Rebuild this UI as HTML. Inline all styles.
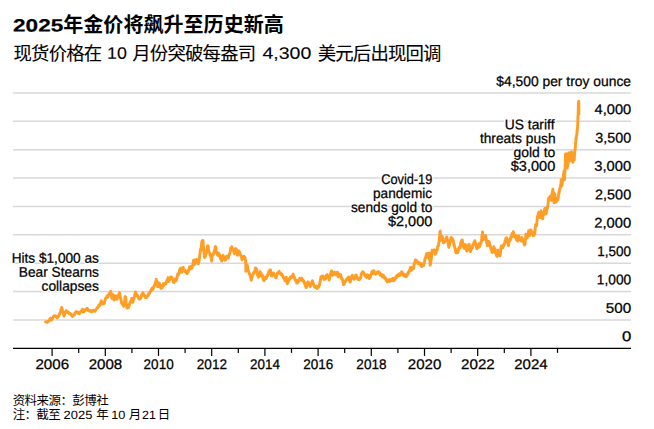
<!DOCTYPE html>
<html lang="zh"><head><meta charset="utf-8"><title>2025年金价将飙升至历史新高</title>
<style>
html,body{margin:0;padding:0;background:#fff;}
body{width:654px;height:429px;position:relative;overflow:hidden;font-family:"Liberation Sans",sans-serif;color:#000;font-kerning:none;}
svg{position:absolute;left:0;top:0;}
.t{position:absolute;white-space:pre;transform-origin:0 0;-webkit-text-stroke:0.25px #000;}
.n{-webkit-text-stroke:0;}
.l{-webkit-text-stroke:.1px #000;}
.tb{-webkit-text-stroke:.2px #000;}
.h{text-shadow:1.30px 0.00px 0 #fff,1.13px 0.65px 0 #fff,0.65px 1.13px 0 #fff,0.00px 1.30px 0 #fff,-0.65px 1.13px 0 #fff,-1.13px 0.65px 0 #fff,-1.30px 0.00px 0 #fff,-1.13px -0.65px 0 #fff,-0.65px -1.13px 0 #fff,-0.00px -1.30px 0 #fff,0.65px -1.13px 0 #fff,1.13px -0.65px 0 #fff;}
.sr{position:absolute;left:0;top:0;width:1px;height:1px;overflow:hidden;opacity:0;font-size:1px;}
</style></head><body>
<svg width="654" height="429" viewBox="0 0 654 429" role="img" aria-label="2025年金价将飙升至历史新高">
<g stroke="#d8d8d8" stroke-width="1.45"><line x1="13" x2="631" y1="319.92" y2="319.92"/><line x1="13" x2="631" y1="291.54" y2="291.54"/><line x1="13" x2="631" y1="263.17" y2="263.17"/><line x1="13" x2="631" y1="234.79" y2="234.79"/><line x1="13" x2="631" y1="206.41" y2="206.41"/><line x1="13" x2="631" y1="178.03" y2="178.03"/><line x1="13" x2="631" y1="149.66" y2="149.66"/><line x1="13" x2="631" y1="121.28" y2="121.28"/><line x1="13" x2="631" y1="92.90" y2="92.90"/></g>
<g stroke="#000" stroke-width="1.2"><line x1="13" x2="631" y1="348.40000000000003" y2="348.40000000000003"/><line x1="52.10" x2="52.10" y1="348.30" y2="355.90"/><line x1="78.70" x2="78.70" y1="348.30" y2="352.90"/><line x1="105.30" x2="105.30" y1="348.30" y2="355.90"/><line x1="131.90" x2="131.90" y1="348.30" y2="352.90"/><line x1="158.50" x2="158.50" y1="348.30" y2="355.90"/><line x1="185.10" x2="185.10" y1="348.30" y2="352.90"/><line x1="211.70" x2="211.70" y1="348.30" y2="355.90"/><line x1="238.30" x2="238.30" y1="348.30" y2="352.90"/><line x1="264.90" x2="264.90" y1="348.30" y2="355.90"/><line x1="291.50" x2="291.50" y1="348.30" y2="352.90"/><line x1="318.10" x2="318.10" y1="348.30" y2="355.90"/><line x1="344.70" x2="344.70" y1="348.30" y2="352.90"/><line x1="371.30" x2="371.30" y1="348.30" y2="355.90"/><line x1="397.90" x2="397.90" y1="348.30" y2="352.90"/><line x1="424.50" x2="424.50" y1="348.30" y2="355.90"/><line x1="451.10" x2="451.10" y1="348.30" y2="352.90"/><line x1="477.70" x2="477.70" y1="348.30" y2="355.90"/><line x1="504.30" x2="504.30" y1="348.30" y2="352.90"/><line x1="530.90" x2="530.90" y1="348.30" y2="355.90"/><line x1="557.50" x2="557.50" y1="348.30" y2="352.90"/></g>
<polyline fill="none" stroke="#FF9E26" stroke-width="2.9" stroke-linejoin="round" stroke-linecap="round" points="45.5,321.9 45.6,321.9 45.7,321.9 45.8,321.9 45.8,322.0 46.1,322.0 46.1,322.0 46.2,321.9 46.3,321.8 46.3,321.8 46.6,321.9 46.6,321.9 46.7,321.8 46.8,322.1 46.9,322.3 47.1,322.3 47.1,322.2 47.2,322.1 47.3,322.2 47.4,322.1 47.6,321.8 47.7,321.7 47.7,321.5 47.8,321.5 47.9,321.6 48.1,321.5 48.2,321.4 48.2,321.4 48.3,321.5 48.4,321.5 48.6,321.3 48.7,321.2 48.7,321.3 48.8,321.1 48.9,320.8 49.1,320.7 49.2,320.7 49.3,320.5 49.3,320.4 49.4,320.4 49.6,319.7 49.7,319.3 49.8,319.1 49.8,319.0 49.9,319.0 50.1,318.6 50.2,318.6 50.3,318.6 50.4,318.5 50.4,318.2 50.6,318.2 50.7,318.2 50.8,318.4 50.9,318.8 50.9,319.4 51.2,320.2 51.2,320.3 51.3,320.3 51.4,320.2 51.4,320.1 51.7,319.4 51.7,319.3 51.8,319.1 51.9,319.2 52.0,318.9 52.2,318.7 52.2,318.7 52.3,318.5 52.4,318.6 52.5,318.6 52.7,318.1 52.8,317.9 52.8,317.8 52.9,317.7 53.0,317.5 53.1,317.1 53.2,317.1 53.3,317.1 53.3,316.9 53.4,316.8 53.5,316.8 53.7,316.3 53.8,316.5 53.8,316.4 53.9,316.4 54.0,316.3 54.2,315.8 54.3,316.0 54.4,316.0 54.4,315.8 54.5,315.7 54.7,315.8 54.8,315.9 54.9,315.9 54.9,316.0 55.0,316.0 55.2,316.1 55.3,316.1 55.4,315.9 55.5,315.9 55.5,316.1 55.7,316.2 55.8,316.4 55.9,316.4 56.0,316.2 56.0,316.7 56.3,317.0 56.3,317.1 56.4,317.2 56.5,317.2 56.5,317.3 56.8,317.2 56.8,317.3 56.9,317.4 57.0,317.6 57.1,317.7 57.3,317.7 57.3,317.8 57.4,317.7 57.5,317.5 57.6,317.3 57.8,317.1 57.9,317.0 57.9,316.8 58.0,316.6 58.1,316.9 58.3,316.6 58.4,316.7 58.4,316.6 58.5,316.3 58.6,316.2 58.8,315.8 58.9,315.7 59.0,315.4 59.0,315.1 59.1,315.1 59.3,314.4 59.4,314.3 59.5,314.2 59.5,314.0 59.6,313.8 59.7,313.6 59.8,313.7 59.9,313.4 60.0,313.4 60.0,313.3 60.1,313.4 60.3,312.1 60.4,312.1 60.5,311.8 60.6,311.8 60.6,311.5 60.8,310.4 60.9,310.0 61.0,309.8 61.1,309.9 61.1,309.4 61.4,308.8 61.4,308.5 61.5,307.9 61.6,307.9 61.6,307.4 61.9,307.8 61.9,308.3 62.0,308.4 62.1,308.6 62.2,308.9 62.4,310.0 62.4,310.3 62.5,311.0 62.6,311.1 62.7,311.3 62.9,312.1 63.0,312.4 63.0,312.4 63.1,312.7 63.2,312.8 63.4,313.1 63.5,313.3 63.5,313.8 63.6,314.3 63.7,314.8 63.9,315.6 64.0,315.9 64.1,316.1 64.1,316.0 64.2,315.8 64.4,314.8 64.5,314.4 64.6,314.2 64.6,314.2 64.7,314.1 64.9,313.6 65.0,313.2 65.1,312.8 65.1,312.6 65.2,312.2 65.4,312.0 65.5,311.9 65.6,311.5 65.7,311.4 65.7,311.3 65.9,311.0 66.0,311.0 66.1,310.7 66.2,310.9 66.2,310.6 66.5,311.1 66.5,311.3 66.6,311.7 66.7,312.0 66.7,312.0 67.0,312.1 67.0,312.0 67.1,312.0 67.2,311.9 67.3,311.9 67.5,312.2 67.5,312.1 67.6,312.2 67.7,312.4 67.8,312.1 68.0,312.1 68.1,312.4 68.1,312.3 68.2,312.1 68.3,312.2 68.5,312.3 68.6,312.4 68.6,312.5 68.7,312.4 68.8,312.5 69.0,313.0 69.1,313.0 69.2,313.0 69.2,313.3 69.3,313.5 69.5,313.0 69.6,313.5 69.7,313.5 69.7,313.5 69.8,313.3 70.0,313.4 70.1,313.8 70.2,313.7 70.2,313.8 70.3,314.0 70.5,313.9 70.6,314.1 70.7,314.2 70.8,314.2 70.8,314.4 71.0,314.4 71.1,314.7 71.2,315.0 71.3,314.9 71.3,314.8 71.6,314.9 71.6,315.0 71.7,315.4 71.8,315.7 71.8,315.8 72.1,316.2 72.1,316.2 72.2,316.3 72.3,316.3 72.4,316.4 72.6,316.0 72.7,316.1 72.7,316.1 72.8,316.0 72.9,315.9 73.1,315.5 73.2,315.5 73.2,315.6 73.3,315.4 73.4,315.1 73.6,314.7 73.7,314.8 73.7,315.0 73.8,314.9 73.9,314.9 74.1,315.1 74.2,315.1 74.3,314.8 74.3,314.7 74.4,314.9 74.6,314.5 74.7,314.4 74.8,314.0 74.8,313.8 74.9,313.7 75.1,312.9 75.2,312.6 75.3,312.7 75.3,312.7 75.4,312.7 75.6,312.6 75.7,312.5 75.8,312.5 75.9,312.2 75.9,312.0 76.1,311.7 76.2,311.8 76.3,311.7 76.4,311.6 76.4,311.6 76.7,312.0 76.7,311.9 76.8,311.8 76.9,311.9 77.0,311.9 77.2,312.0 77.2,312.1 77.3,312.1 77.4,312.4 77.5,312.5 77.7,312.8 77.8,313.1 77.8,313.2 77.9,313.1 78.0,313.0 78.2,313.2 78.3,312.9 78.3,312.7 78.4,312.5 78.5,312.7 78.7,312.8 78.8,312.6 78.8,312.9 78.9,312.9 79.0,312.8 79.2,313.5 79.3,313.6 79.4,313.8 79.4,313.7 79.5,313.5 79.7,312.6 79.8,312.2 79.9,312.3 79.9,312.3 80.0,312.3 80.2,312.1 80.3,311.9 80.4,312.0 80.4,312.1 80.5,311.9 80.7,311.6 80.8,311.6 80.9,311.3 81.0,311.1 81.0,311.0 81.3,311.2 81.3,311.2 81.4,311.0 81.5,311.2 81.5,311.0 81.8,310.8 81.8,310.7 81.9,310.5 82.0,310.2 82.1,310.1 82.3,309.8 82.3,309.5 82.4,309.3 82.5,309.3 82.6,309.4 82.8,309.4 82.9,309.8 82.9,310.4 83.0,310.8 83.1,311.1 83.3,312.1 83.4,311.9 83.4,311.9 83.5,311.7 83.6,312.1 83.8,312.1 83.9,311.7 83.9,311.6 84.0,311.4 84.1,311.2 84.3,311.0 84.4,310.9 84.5,311.0 84.5,310.8 84.6,311.0 84.8,310.6 84.9,310.6 85.0,310.3 85.0,310.3 85.1,310.5 85.3,310.2 85.4,310.3 85.5,310.0 85.6,309.6 85.6,309.6 85.8,309.4 85.9,309.5 86.0,309.3 86.1,309.4 86.1,309.5 86.4,309.1 86.4,309.3 86.5,309.1 86.6,309.1 86.6,309.0 86.9,308.8 86.9,308.4 87.0,308.5 87.1,308.4 87.2,308.6 87.4,308.7 87.4,308.5 87.5,308.8 87.6,309.2 87.7,309.5 87.9,309.6 88.0,309.7 88.0,309.8 88.1,310.0 88.2,310.1 88.4,310.5 88.5,310.4 88.5,310.5 88.6,310.7 88.7,310.7 88.9,310.5 89.0,310.5 89.0,310.6 89.1,310.8 89.2,311.0 89.4,311.0 89.5,310.9 89.6,310.6 89.6,310.7 89.7,310.7 89.9,310.7 90.0,310.7 90.1,310.7 90.1,310.7 90.2,310.8 90.4,310.6 90.5,311.0 90.6,311.2 90.7,311.2 90.7,311.4 90.9,311.7 91.0,311.6 91.1,311.5 91.2,311.5 91.2,311.4 91.5,311.8 91.5,311.7 91.6,311.9 91.7,311.8 91.7,311.7 92.0,311.2 92.0,311.3 92.1,311.2 92.2,311.2 92.3,310.9 92.5,310.6 92.5,310.6 92.6,310.5 92.7,310.8 92.8,310.5 92.9,310.6 93.0,310.4 93.1,310.5 93.1,310.4 93.2,310.3 93.3,310.6 93.5,310.5 93.6,310.7 93.6,311.0 93.7,311.2 93.8,311.2 94.0,310.8 94.1,310.4 94.1,310.5 94.2,310.6 94.3,310.6 94.5,310.9 94.6,310.9 94.7,310.8 94.7,311.1 94.8,311.1 95.0,311.2 95.1,311.2 95.2,311.3 95.2,311.1 95.3,310.7 95.5,310.4 95.6,310.3 95.7,310.0 95.8,309.6 95.8,309.5 96.0,309.4 96.1,309.3 96.2,309.3 96.3,309.1 96.3,309.1 96.6,309.1 96.6,309.0 96.7,308.7 96.8,308.7 96.8,308.6 97.1,308.6 97.1,308.4 97.2,308.1 97.3,308.0 97.4,307.8 97.4,307.8 97.6,307.4 97.6,307.5 97.7,307.0 97.8,307.0 97.9,307.0 98.1,306.9 98.2,307.3 98.2,307.1 98.3,306.9 98.4,306.7 98.6,306.0 98.7,305.8 98.7,305.6 98.8,305.3 98.9,305.5 99.1,306.0 99.2,306.0 99.3,305.8 99.3,305.3 99.4,305.2 99.6,305.4 99.7,305.4 99.8,305.1 99.8,305.0 99.9,304.8 100.1,304.1 100.2,304.0 100.3,303.7 100.3,303.5 100.4,303.6 100.6,302.9 100.7,302.5 100.8,302.3 100.9,302.5 100.9,302.0 101.1,301.1 101.2,301.0 101.3,301.2 101.4,300.8 101.4,301.1 101.7,301.8 101.7,301.9 101.8,302.3 101.9,302.5 101.9,303.2 102.2,303.6 102.2,304.0 102.3,304.0 102.4,303.7 102.5,303.8 102.7,303.3 102.7,303.0 102.8,303.2 102.9,303.1 103.0,303.1 103.2,302.4 103.3,302.5 103.3,302.7 103.4,302.6 103.5,302.8 103.7,302.7 103.8,302.5 103.8,302.9 103.9,302.7 104.0,303.1 104.2,303.5 104.3,303.1 104.4,302.9 104.4,302.9 104.5,302.6 104.7,301.6 104.8,301.2 104.9,300.9 104.9,301.1 105.0,300.3 105.2,299.7 105.3,299.5 105.4,299.1 105.4,298.7 105.5,298.6 105.7,298.0 105.8,298.1 105.9,298.2 106.0,298.0 106.0,298.3 106.2,297.8 106.3,297.8 106.4,297.9 106.5,297.8 106.5,297.7 106.8,297.3 106.8,296.8 106.9,296.3 107.0,296.3 107.0,296.3 107.3,296.2 107.3,296.1 107.4,295.8 107.5,296.2 107.6,296.2 107.8,296.8 107.8,296.5 107.9,297.1 108.0,296.9 108.1,296.9 108.3,296.1 108.4,296.0 108.4,295.7 108.5,295.7 108.6,295.4 108.8,294.9 108.9,294.7 108.9,294.6 109.0,294.8 109.1,294.9 109.3,294.2 109.4,293.9 109.4,293.8 109.5,293.4 109.6,293.4 109.8,292.9 109.9,292.9 110.0,293.0 110.0,292.9 110.1,292.6 110.3,292.4 110.4,292.3 110.5,292.4 110.5,292.1 110.6,292.1 110.8,291.3 110.9,292.0 111.0,292.4 111.0,293.2 111.1,293.2 111.3,294.8 111.4,295.1 111.5,295.0 111.6,296.2 111.6,296.8 111.8,298.4 111.9,298.4 112.0,298.1 112.1,298.2 112.1,297.7 112.3,297.2 112.4,296.9 112.5,296.3 112.6,296.0 112.6,296.0 112.9,295.1 112.9,295.1 113.0,294.6 113.1,294.8 113.1,295.1 113.4,296.6 113.4,296.8 113.5,297.0 113.6,298.0 113.7,298.3 113.9,298.9 113.9,299.4 114.0,299.7 114.1,299.9 114.2,299.8 114.4,298.9 114.5,298.8 114.5,298.6 114.6,298.5 114.7,298.7 114.9,297.8 115.0,297.5 115.0,297.0 115.1,297.0 115.2,296.8 115.4,295.9 115.5,296.2 115.5,295.6 115.6,295.7 115.7,295.8 115.9,296.2 116.0,296.6 116.1,296.9 116.1,297.1 116.2,297.4 116.4,298.1 116.5,298.1 116.6,298.4 116.6,298.4 116.7,298.2 116.9,298.6 117.0,298.7 117.1,299.2 117.1,299.2 117.2,298.9 117.4,298.2 117.5,297.8 117.6,297.4 117.7,297.1 117.7,296.9 117.9,296.4 118.0,296.3 118.1,296.5 118.2,296.4 118.2,296.2 118.5,295.6 118.5,295.5 118.6,294.7 118.7,295.2 118.7,295.0 119.0,293.9 119.0,294.3 119.1,294.1 119.2,293.7 119.3,293.6 119.5,293.1 119.5,292.8 119.6,293.2 119.7,293.7 119.8,294.0 120.0,295.3 120.1,296.3 120.1,296.6 120.2,297.0 120.3,297.1 120.5,298.3 120.6,298.6 120.6,298.7 120.7,298.6 120.8,299.1 121.0,300.1 121.1,300.2 121.1,300.4 121.2,300.9 121.3,301.4 121.5,302.8 121.6,303.3 121.7,303.1 121.7,303.0 121.8,303.5 122.0,303.8 122.1,303.6 122.2,303.6 122.2,303.9 122.3,303.6 122.5,303.8 122.6,303.8 122.7,303.8 122.7,304.0 122.8,304.4 123.0,305.3 123.1,305.4 123.2,305.4 123.3,305.3 123.3,305.3 123.5,306.1 123.6,306.2 123.7,306.1 123.8,306.0 123.8,305.7 124.1,304.3 124.1,303.8 124.2,303.3 124.3,302.8 124.3,302.1 124.6,301.2 124.6,301.0 124.7,300.2 124.8,299.4 124.9,298.9 125.1,296.9 125.1,296.6 125.2,296.9 125.3,297.1 125.4,296.9 125.6,296.7 125.6,296.8 125.7,296.9 125.8,298.0 125.9,298.5 126.1,300.7 126.2,301.3 126.2,302.0 126.3,302.9 126.4,303.6 126.6,305.2 126.7,305.9 126.7,306.5 126.8,307.3 126.9,307.9 127.1,308.0 127.2,307.9 127.2,308.1 127.3,308.1 127.4,308.0 127.6,307.5 127.7,307.8 127.8,307.4 127.8,307.4 127.9,307.4 128.1,307.9 128.2,307.9 128.3,307.8 128.3,307.6 128.4,307.3 128.6,306.6 128.7,306.7 128.8,306.5 128.8,306.5 128.9,306.4 129.1,305.9 129.2,305.7 129.3,305.2 129.4,304.8 129.4,304.6 129.6,303.8 129.7,303.4 129.8,303.2 129.9,303.5 129.9,303.2 130.2,302.6 130.2,302.3 130.3,301.6 130.4,301.5 130.4,301.5 130.7,302.0 130.7,301.7 130.8,301.6 130.9,301.8 131.0,302.0 131.2,301.5 131.2,301.2 131.3,300.6 131.4,300.0 131.5,299.5 131.7,298.4 131.8,298.3 131.8,298.6 131.9,298.8 132.0,299.0 132.2,300.2 132.3,300.5 132.3,301.1 132.4,301.1 132.5,301.2 132.7,301.8 132.8,302.4 132.8,302.3 132.9,302.3 133.0,301.6 133.2,300.9 133.3,300.6 133.4,300.3 133.4,299.8 133.5,299.9 133.7,299.8 133.8,299.7 133.9,299.3 133.9,299.0 134.0,298.7 134.2,297.9 134.3,297.4 134.4,297.1 134.5,296.9 134.5,296.3 134.7,295.1 134.8,294.9 134.9,294.3 135.0,294.3 135.0,293.8 135.3,293.1 135.3,293.0 135.4,292.3 135.5,292.2 135.5,291.9 135.8,292.5 135.8,292.8 135.9,292.8 136.0,293.0 136.1,293.2 136.3,294.1 136.3,294.8 136.4,294.9 136.5,295.0 136.6,294.9 136.8,295.4 136.9,295.0 136.9,295.2 137.0,295.2 137.1,295.5 137.2,295.9 137.3,295.7 137.4,295.4 137.4,295.3 137.5,295.6 137.6,296.1 137.8,297.0 137.9,296.9 137.9,296.9 138.0,297.1 138.1,297.2 138.3,297.3 138.4,297.1 138.5,297.4 138.5,297.9 138.6,297.6 138.8,298.0 138.9,298.2 139.0,298.3 139.0,298.7 139.1,299.0 139.3,298.5 139.4,298.8 139.5,299.2 139.6,299.2 139.6,299.0 139.8,298.9 139.9,298.7 140.0,298.5 140.1,298.6 140.1,298.4 140.4,298.6 140.4,298.5 140.5,298.3 140.6,298.3 140.6,298.0 140.9,298.0 140.9,297.8 141.0,297.4 141.1,297.4 141.2,296.8 141.4,295.9 141.4,295.4 141.5,295.4 141.6,295.4 141.7,295.6 141.9,294.5 142.0,294.3 142.0,294.2 142.1,294.0 142.2,294.2 142.4,293.9 142.5,294.0 142.5,294.0 142.6,293.7 142.7,293.2 142.9,292.7 143.0,292.7 143.1,293.1 143.1,293.3 143.2,293.5 143.4,294.2 143.5,294.2 143.6,294.6 143.6,294.4 143.7,294.7 143.9,295.4 144.0,295.1 144.1,294.9 144.1,294.8 144.2,294.7 144.4,295.5 144.5,295.8 144.6,295.7 144.7,295.9 144.7,296.1 144.9,296.8 145.0,296.5 145.1,296.5 145.2,296.8 145.2,297.5 145.5,297.2 145.5,297.0 145.6,296.7 145.7,296.4 145.7,296.5 146.0,296.5 146.0,296.6 146.1,297.0 146.2,297.1 146.3,296.9 146.5,297.5 146.5,297.4 146.6,297.0 146.7,297.4 146.8,297.2 147.0,296.3 147.1,296.2 147.1,296.3 147.2,296.0 147.3,295.8 147.5,296.0 147.6,296.1 147.6,296.0 147.7,296.0 147.8,295.6 148.0,295.4 148.1,295.0 148.2,295.1 148.2,295.0 148.3,294.7 148.4,294.4 148.5,294.4 148.6,294.7 148.7,294.5 148.7,294.3 148.8,293.5 149.0,292.9 149.1,293.3 149.2,293.4 149.2,293.3 149.3,293.3 149.5,293.1 149.6,292.9 149.7,292.9 149.8,293.0 149.8,292.7 150.0,292.1 150.1,292.0 150.2,291.9 150.3,291.6 150.3,291.6 150.6,291.1 150.6,291.2 150.7,291.3 150.8,290.7 150.8,290.9 151.1,289.9 151.1,290.2 151.2,289.9 151.3,289.5 151.4,289.5 151.6,288.9 151.6,289.0 151.7,289.2 151.8,289.1 151.9,289.0 152.1,288.6 152.2,288.5 152.2,288.1 152.3,288.4 152.4,288.1 152.6,288.4 152.7,288.7 152.7,289.2 152.8,289.1 152.9,289.4 153.1,288.5 153.2,288.4 153.3,288.7 153.3,288.2 153.4,288.2 153.6,287.3 153.7,287.1 153.8,286.9 153.8,286.8 153.9,286.5 154.1,286.6 154.2,286.5 154.3,285.7 154.3,285.4 154.4,285.5 154.6,285.4 154.7,285.4 154.8,284.9 154.9,284.5 154.9,284.3 155.1,284.3 155.1,283.6 155.2,283.1 155.3,283.1 155.4,283.4 155.4,283.5 155.7,282.0 155.7,281.6 155.8,281.2 155.9,281.0 155.9,281.1 156.2,280.0 156.2,279.3 156.3,279.5 156.4,279.9 156.5,280.1 156.7,280.7 156.8,280.9 156.8,281.4 156.9,281.5 157.0,282.0 157.2,283.9 157.3,284.2 157.3,284.8 157.4,285.5 157.5,285.9 157.7,286.1 157.8,286.7 157.8,286.9 157.9,286.2 158.0,285.8 158.2,284.9 158.3,284.5 158.4,284.1 158.4,283.9 158.5,283.3 158.7,283.5 158.8,282.9 158.9,282.9 158.9,283.0 159.0,283.0 159.2,282.9 159.3,283.2 159.4,283.6 159.4,284.0 159.5,284.1 159.7,284.5 159.8,284.6 159.9,285.4 160.0,285.6 160.0,286.0 160.2,286.8 160.3,287.1 160.4,287.3 160.5,287.1 160.5,287.4 160.8,288.4 160.8,288.2 160.9,288.2 161.0,288.2 161.1,288.3 161.3,287.9 161.3,288.0 161.4,287.6 161.5,287.5 161.6,288.0 161.8,287.9 161.9,287.9 161.9,287.7 162.0,287.8 162.1,287.9 162.3,287.1 162.4,287.0 162.4,286.4 162.5,285.7 162.6,285.1 162.8,284.5 162.9,284.4 162.9,284.6 163.0,284.5 163.1,284.6 163.3,283.8 163.4,284.3 163.5,284.2 163.5,284.3 163.6,284.5 163.8,285.1 163.9,285.2 164.0,284.4 164.0,284.5 164.1,284.5 164.3,284.1 164.4,284.2 164.5,284.5 164.5,284.0 164.6,283.8 164.8,283.4 164.9,283.7 165.0,283.4 165.1,283.9 165.1,283.8 165.4,283.4 165.4,283.1 165.5,283.3 165.6,283.6 165.6,284.0 165.9,283.4 165.9,283.7 166.0,283.8 166.1,283.1 166.2,282.5 166.4,282.8 166.4,282.2 166.5,281.4 166.6,281.2 166.7,281.2 166.9,281.0 167.0,281.1 167.0,280.5 167.1,280.8 167.2,281.0 167.4,280.2 167.5,279.9 167.5,280.1 167.6,279.6 167.7,279.1 167.9,278.2 168.0,277.7 168.0,278.1 168.1,278.5 168.2,278.8 168.4,279.7 168.5,280.5 168.6,280.8 168.6,280.8 168.7,281.5 168.9,280.5 169.0,280.2 169.1,280.1 169.1,280.3 169.2,280.5 169.4,280.2 169.5,279.5 169.6,279.3 169.7,279.4 169.7,278.8 169.9,278.2 170.0,278.6 170.1,278.8 170.2,278.4 170.2,278.5 170.5,278.3 170.5,277.9 170.6,277.5 170.7,276.9 170.7,277.0 171.0,277.2 171.0,277.3 171.1,277.4 171.2,277.2 171.3,277.4 171.5,277.1 171.5,277.5 171.6,277.9 171.7,278.2 171.8,278.4 172.0,277.7 172.1,277.5 172.1,278.0 172.2,278.4 172.3,278.6 172.5,278.8 172.6,279.2 172.6,278.9 172.7,279.9 172.8,280.0 173.0,280.1 173.1,280.2 173.1,280.3 173.2,281.0 173.3,281.4 173.5,282.3 173.6,282.5 173.7,282.6 173.7,282.7 173.8,282.0 174.0,280.7 174.1,281.1 174.2,281.7 174.2,281.7 174.3,281.9 174.5,280.7 174.6,280.8 174.7,280.7 174.8,280.5 174.8,280.4 175.0,279.3 175.0,279.5 175.1,279.3 175.2,279.3 175.3,279.0 175.3,279.3 175.6,280.0 175.6,279.8 175.7,279.7 175.8,280.3 175.8,280.2 176.1,280.8 176.1,280.4 176.2,280.1 176.3,279.9 176.4,279.6 176.6,279.3 176.6,279.0 176.7,278.8 176.8,278.7 176.9,278.6 177.1,277.4 177.2,277.1 177.2,276.2 177.3,275.6 177.4,276.1 177.6,274.9 177.7,274.4 177.7,274.0 177.8,274.4 177.9,274.7 178.1,274.7 178.2,274.8 178.2,274.9 178.3,274.8 178.4,274.7 178.6,274.7 178.7,274.1 178.8,274.1 178.8,273.7 178.9,273.5 179.1,273.2 179.2,273.0 179.3,272.6 179.3,272.9 179.4,272.1 179.6,269.8 179.7,269.5 179.8,269.6 179.9,269.8 179.9,270.1 180.1,269.7 180.2,270.4 180.3,269.5 180.4,268.6 180.4,268.6 180.7,268.0 180.7,268.0 180.8,268.0 180.9,268.3 180.9,268.2 181.2,268.3 181.2,268.3 181.3,268.9 181.4,269.3 181.5,270.4 181.7,271.6 181.7,272.4 181.8,272.2 181.9,272.0 182.0,271.5 182.2,270.3 182.3,269.8 182.3,269.5 182.4,269.5 182.5,269.5 182.7,268.8 182.8,268.9 182.8,268.4 182.9,268.5 183.0,268.2 183.2,267.5 183.3,267.7 183.4,268.1 183.4,268.1 183.5,268.6 183.7,269.4 183.8,269.6 183.9,269.4 183.9,269.8 184.0,269.8 184.2,269.6 184.3,270.0 184.4,270.0 184.4,270.5 184.5,270.3 184.7,270.8 184.8,270.8 184.9,270.6 185.0,270.3 185.0,270.2 185.2,271.2 185.3,271.8 185.4,271.5 185.5,271.0 185.5,270.9 185.8,271.6 185.8,271.8 185.9,272.1 186.0,272.2 186.0,272.2 186.3,272.5 186.3,272.7 186.4,272.2 186.5,272.2 186.6,272.3 186.8,272.7 186.8,272.8 186.9,273.4 187.0,273.7 187.1,273.6 187.3,273.2 187.4,272.8 187.4,272.5 187.5,272.8 187.6,272.5 187.8,272.0 187.9,271.6 187.9,272.1 188.0,272.2 188.1,271.8 188.3,271.0 188.4,270.4 188.5,270.8 188.5,270.8 188.6,270.2 188.8,270.0 188.9,269.1 189.0,268.7 189.0,268.7 189.1,268.4 189.3,267.6 189.4,266.9 189.5,267.8 189.5,267.6 189.6,268.4 189.8,267.3 189.9,267.7 190.0,267.8 190.1,267.5 190.1,267.8 190.3,268.6 190.4,269.1 190.5,268.8 190.6,268.5 190.6,268.3 190.9,266.8 190.9,266.9 191.0,266.4 191.1,267.0 191.1,266.8 191.4,266.9 191.4,266.9 191.5,267.0 191.6,267.7 191.7,267.8 191.9,268.2 192.0,268.1 192.0,267.7 192.1,267.6 192.2,267.7 192.4,266.0 192.5,265.4 192.5,265.3 192.6,265.2 192.7,264.6 192.9,264.1 193.0,263.7 193.0,263.6 193.1,262.9 193.2,262.8 193.4,261.1 193.5,260.5 193.6,260.8 193.6,261.1 193.7,261.1 193.9,260.0 194.0,261.3 194.1,263.0 194.1,264.6 194.2,264.7 194.4,263.7 194.5,264.1 194.6,263.7 194.6,263.3 194.7,263.2 194.9,263.6 195.0,263.7 195.1,263.9 195.2,262.7 195.2,262.8 195.4,261.8 195.5,261.5 195.6,261.7 195.7,261.3 195.7,261.1 196.0,261.1 196.0,260.9 196.1,260.2 196.2,260.3 196.3,260.1 196.5,259.5 196.5,260.0 196.6,260.6 196.7,260.3 196.8,260.7 197.0,261.3 197.1,261.7 197.1,261.5 197.2,262.0 197.3,261.7 197.5,261.5 197.6,261.3 197.6,261.7 197.7,262.7 197.8,262.5 198.0,262.6 198.1,263.3 198.1,263.5 198.2,263.6 198.3,263.9 198.5,263.0 198.6,263.0 198.7,262.3 198.7,262.2 198.8,261.6 199.0,261.4 199.1,261.0 199.2,260.5 199.2,259.8 199.3,259.0 199.5,257.1 199.6,256.2 199.7,255.8 199.7,254.8 199.8,254.9 200.0,253.8 200.1,252.7 200.2,252.0 200.3,251.4 200.3,251.3 200.5,249.3 200.6,250.3 200.7,250.1 200.8,250.1 200.8,249.5 201.1,248.7 201.1,247.5 201.2,247.6 201.3,246.0 201.4,245.6 201.6,243.5 201.6,243.4 201.7,242.4 201.8,242.6 201.9,242.4 202.1,240.6 202.2,243.7 202.2,246.4 202.3,249.5 202.4,249.7 202.6,247.1 202.7,245.5 202.7,244.8 202.8,244.3 202.9,243.6 203.1,240.5 203.2,242.7 203.2,243.1 203.3,244.2 203.4,244.8 203.6,247.5 203.7,248.1 203.8,248.6 203.8,249.8 203.9,251.0 204.1,253.0 204.2,253.9 204.3,255.3 204.3,255.6 204.4,256.5 204.6,257.6 204.7,256.9 204.8,257.0 204.8,256.8 204.9,256.7 205.1,256.2 205.2,255.2 205.3,256.3 205.4,256.3 205.4,256.3 205.7,255.0 205.7,254.6 205.8,254.5 205.9,253.9 205.9,253.3 206.0,253.8 206.2,253.8 206.2,254.0 206.3,253.5 206.4,253.1 206.5,252.7 206.7,252.5 206.7,252.0 206.8,251.3 206.9,250.1 207.0,249.1 207.2,249.0 207.3,248.4 207.3,247.1 207.4,246.3 207.5,247.0 207.7,246.8 207.8,246.4 207.8,246.5 207.9,245.8 208.0,246.5 208.2,246.4 208.3,247.0 208.3,248.2 208.4,249.1 208.5,250.5 208.7,250.6 208.8,250.9 208.9,251.4 208.9,252.0 209.0,251.3 209.2,252.6 209.3,252.5 209.4,252.9 209.4,252.9 209.5,252.7 209.7,253.7 209.8,254.3 209.9,254.6 210.0,255.0 210.0,255.1 210.2,254.7 210.3,254.6 210.4,254.7 210.5,254.5 210.5,255.0 210.8,256.9 210.8,257.0 210.9,256.9 211.0,257.1 211.0,257.4 211.3,259.6 211.3,259.8 211.4,260.2 211.5,260.9 211.6,261.0 211.8,259.4 211.8,258.7 211.9,257.4 212.0,257.3 212.1,257.0 212.3,256.1 212.4,256.1 212.4,255.2 212.5,255.2 212.6,255.1 212.7,254.3 212.8,254.4 212.9,254.2 212.9,254.3 213.0,254.8 213.1,254.8 213.3,254.4 213.4,253.9 213.4,254.2 213.5,254.3 213.6,254.3 213.8,252.8 213.9,253.0 214.0,252.3 214.0,251.8 214.1,251.4 214.3,251.1 214.4,250.9 214.5,250.9 214.5,250.6 214.6,250.0 214.8,248.8 214.9,248.1 215.0,248.4 215.0,247.7 215.1,248.2 215.3,246.7 215.4,246.5 215.5,246.7 215.6,247.0 215.6,247.5 215.8,247.4 215.9,247.0 216.0,252.0 216.1,252.4 216.1,252.8 216.4,251.9 216.4,252.8 216.5,252.9 216.6,253.0 216.6,253.1 216.9,253.1 216.9,252.8 217.0,252.9 217.1,253.3 217.2,253.6 217.4,254.0 217.4,254.3 217.5,255.0 217.6,254.8 217.7,254.9 217.9,255.3 218.0,255.3 218.0,255.3 218.1,254.9 218.2,255.5 218.4,254.6 218.5,254.1 218.5,253.9 218.6,253.0 218.7,253.0 218.9,254.0 219.0,254.0 219.0,254.9 219.1,255.0 219.2,254.8 219.3,254.7 219.4,254.2 219.5,254.7 219.5,254.9 219.6,255.9 219.7,256.4 219.9,256.4 220.0,257.0 220.1,256.9 220.1,256.9 220.2,257.2 220.4,258.0 220.5,258.9 220.6,259.1 220.6,258.7 220.7,258.3 220.9,259.3 221.0,259.1 221.1,259.1 221.1,259.5 221.2,259.5 221.4,260.0 221.5,260.8 221.6,260.9 221.7,260.4 221.7,260.6 221.9,259.8 222.0,259.8 222.1,258.7 222.2,258.1 222.2,257.5 222.5,257.2 222.5,257.2 222.6,256.6 222.7,255.8 222.7,256.0 223.0,256.3 223.0,255.8 223.1,255.3 223.2,256.0 223.3,256.1 223.5,256.7 223.5,256.5 223.6,257.1 223.7,257.4 223.8,258.1 224.0,258.8 224.1,259.2 224.1,259.6 224.2,259.3 224.3,259.7 224.5,259.5 224.6,259.9 224.6,260.0 224.7,260.0 224.8,260.1 225.0,259.6 225.1,258.9 225.1,259.0 225.2,259.6 225.3,260.1 225.5,260.1 225.6,259.7 225.7,258.8 225.7,258.5 225.8,258.1 225.9,257.8 226.0,257.2 226.1,256.7 226.2,257.5 226.2,257.1 226.3,256.4 226.5,256.7 226.6,256.5 226.7,256.3 226.7,256.6 226.8,257.0 227.0,256.5 227.1,256.4 227.2,256.3 227.3,256.8 227.3,257.1 227.5,256.5 227.6,257.1 227.7,257.6 227.8,257.5 227.8,257.3 228.1,257.2 228.1,257.3 228.2,257.5 228.3,258.3 228.3,257.6 228.6,256.8 228.6,256.4 228.7,256.1 228.8,255.9 228.9,255.1 229.1,255.3 229.1,255.2 229.2,254.2 229.3,254.4 229.4,254.1 229.6,253.5 229.7,254.0 229.7,253.4 229.8,253.3 229.9,253.1 230.1,252.3 230.2,251.9 230.2,251.4 230.3,251.4 230.4,250.6 230.5,249.3 230.6,248.3 230.7,249.2 230.7,248.4 230.8,248.4 230.9,248.2 231.1,248.9 231.2,248.9 231.3,248.2 231.3,247.5 231.4,247.6 231.6,248.3 231.7,247.3 231.8,246.9 231.8,246.7 231.9,247.2 232.1,247.4 232.2,248.1 232.3,247.8 232.3,248.6 232.4,248.5 232.6,249.6 232.7,249.7 232.8,249.4 232.8,250.0 232.9,249.6 233.1,249.4 233.2,250.0 233.3,250.3 233.4,251.1 233.4,251.3 233.6,250.9 233.7,250.8 233.8,251.2 233.9,251.5 233.9,251.9 234.2,253.0 234.2,253.5 234.3,253.6 234.4,253.4 234.4,253.5 234.7,251.6 234.7,251.0 234.8,251.0 234.9,250.7 235.0,250.0 235.2,249.9 235.2,249.7 235.3,249.7 235.4,249.5 235.5,248.9 235.7,248.7 235.8,248.5 235.8,248.8 235.9,249.5 236.0,249.2 236.2,250.3 236.3,249.6 236.3,250.3 236.4,250.1 236.5,249.6 236.7,250.4 236.8,251.4 236.8,251.3 236.9,251.1 237.0,251.4 237.2,253.3 237.3,253.7 237.4,254.0 237.4,254.9 237.5,255.2 237.7,253.9 237.8,254.2 237.9,254.1 237.9,253.6 238.0,253.3 238.2,253.7 238.3,253.1 238.4,252.6 238.4,252.3 238.5,251.8 238.7,251.5 238.8,251.3 238.9,250.9 239.0,251.3 239.0,251.6 239.2,252.4 239.3,252.5 239.4,252.3 239.5,253.3 239.5,253.3 239.8,253.0 239.8,252.3 239.9,252.7 240.0,253.4 240.0,254.0 240.3,254.8 240.3,254.7 240.4,255.4 240.5,255.3 240.6,255.4 240.8,255.2 240.9,255.5 240.9,255.6 241.0,255.5 241.1,256.3 241.3,257.0 241.4,256.7 241.4,256.9 241.5,257.2 241.6,257.4 241.8,258.9 241.9,259.1 241.9,259.5 242.0,259.6 242.1,259.4 242.3,257.7 242.4,258.6 242.5,258.5 242.5,258.2 242.6,258.0 242.8,257.7 242.9,258.0 243.0,258.2 243.0,258.5 243.1,258.5 243.3,258.1 243.4,257.3 243.5,257.3 243.5,257.3 243.6,256.4 243.8,256.5 243.9,256.6 244.0,256.8 244.1,256.7 244.1,256.6 244.3,256.5 244.4,257.1 244.5,257.3 244.6,257.5 244.6,257.4 244.9,257.2 244.9,257.3 245.0,258.0 245.1,258.1 245.2,258.7 245.4,259.3 245.4,259.6 245.5,259.5 245.6,259.8 245.7,263.4 245.9,271.4 246.0,271.2 246.0,270.7 246.1,270.2 246.2,270.7 246.4,270.0 246.5,270.3 246.5,269.6 246.6,268.8 246.7,268.2 246.9,266.9 247.0,266.5 247.0,265.9 247.1,265.2 247.2,264.9 247.4,265.8 247.5,266.6 247.6,267.3 247.6,267.6 247.7,268.0 247.9,269.8 248.0,270.0 248.1,269.9 248.1,270.8 248.2,271.1 248.4,271.0 248.5,270.8 248.6,271.4 248.6,271.4 248.7,271.7 248.9,272.4 249.0,272.9 249.1,273.2 249.2,273.7 249.2,273.6 249.5,273.5 249.5,273.9 249.6,273.7 249.7,274.2 249.7,274.5 250.0,274.8 250.0,275.2 250.1,275.3 250.2,275.5 250.3,276.1 250.5,277.0 250.5,277.1 250.6,277.2 250.7,277.3 250.8,277.7 251.0,278.9 251.1,279.2 251.1,279.8 251.2,280.2 251.3,280.0 251.5,279.0 251.6,278.6 251.6,278.7 251.7,278.2 251.8,278.0 252.0,277.6 252.1,277.0 252.1,277.3 252.2,276.9 252.3,276.4 252.5,275.3 252.6,275.1 252.7,275.3 252.7,275.0 252.8,274.9 253.0,274.5 253.1,274.3 253.2,273.8 253.2,273.5 253.3,273.6 253.5,273.1 253.6,272.8 253.7,272.5 253.7,272.5 253.8,273.2 254.0,272.6 254.1,272.7 254.2,272.2 254.3,272.1 254.3,272.2 254.6,272.3 254.6,272.6 254.7,271.7 254.8,271.1 254.8,270.6 255.1,270.1 255.1,269.6 255.2,269.0 255.3,268.7 255.4,269.2 255.6,268.1 255.6,267.9 255.7,267.9 255.8,268.3 255.9,268.2 256.1,268.9 256.2,269.8 256.2,270.5 256.3,269.6 256.4,269.9 256.6,269.3 256.7,269.5 256.7,270.0 256.8,270.3 256.9,271.3 257.0,271.7 257.1,272.8 257.2,273.0 257.2,273.0 257.3,272.8 257.4,273.4 257.6,275.5 257.7,275.5 257.8,275.1 257.8,275.8 257.9,275.6 258.1,275.7 258.2,276.8 258.3,277.1 258.3,277.3 258.4,276.8 258.6,276.2 258.7,276.2 258.8,276.0 258.9,276.1 258.9,276.2 259.1,276.1 259.2,275.2 259.3,275.1 259.4,275.6 259.4,275.3 259.7,273.9 259.7,273.7 259.8,273.5 259.9,273.6 259.9,273.3 260.2,271.6 260.2,271.9 260.3,272.6 260.4,272.4 260.5,272.5 260.7,273.0 260.7,273.2 260.8,273.1 260.9,273.2 261.0,273.1 261.2,274.9 261.3,274.9 261.3,275.1 261.4,275.7 261.5,275.9 261.7,275.2 261.8,275.3 261.8,275.1 261.9,275.2 262.0,275.2 262.2,275.3 262.3,275.1 262.3,275.2 262.4,275.2 262.5,275.5 262.7,276.7 262.8,277.2 262.9,278.1 262.9,277.8 263.0,278.3 263.2,279.4 263.3,279.0 263.4,279.3 263.4,279.2 263.5,279.4 263.7,279.5 263.8,280.1 263.9,280.7 264.0,280.8 264.0,280.2 264.2,279.6 264.3,279.3 264.4,278.8 264.5,279.2 264.5,278.9 264.8,278.9 264.8,279.0 264.9,279.2 265.0,279.3 265.0,278.4 265.3,277.1 265.3,277.2 265.4,278.0 265.5,278.4 265.6,278.2 265.8,277.6 265.8,277.5 265.9,277.7 266.0,278.0 266.1,277.9 266.3,278.2 266.4,278.3 266.4,278.1 266.5,277.5 266.6,277.4 266.8,276.6 266.9,276.8 266.9,276.7 267.0,276.5 267.1,276.2 267.3,275.9 267.4,275.9 267.5,275.6 267.5,275.7 267.6,275.2 267.8,274.5 267.9,274.0 268.0,274.5 268.0,274.3 268.1,274.2 268.2,274.5 268.3,273.5 268.4,273.5 268.5,273.1 268.5,272.7 268.6,272.2 268.8,271.6 268.9,271.5 269.0,271.2 269.1,272.0 269.1,271.0 269.3,271.5 269.4,271.2 269.5,270.9 269.6,270.9 269.6,270.8 269.9,270.8 269.9,270.8 270.0,270.3 270.1,270.1 270.1,269.9 270.4,270.0 270.4,270.2 270.5,270.6 270.6,271.2 270.7,271.6 270.9,272.4 270.9,273.2 271.0,274.0 271.1,274.2 271.2,274.1 271.4,275.4 271.5,275.7 271.5,275.9 271.6,275.6 271.7,275.6 271.9,275.7 272.0,275.5 272.0,275.7 272.1,275.9 272.2,275.5 272.4,274.6 272.5,274.6 272.6,274.8 272.6,274.3 272.7,274.3 272.9,274.2 273.0,274.5 273.1,274.4 273.1,273.8 273.2,274.1 273.4,273.6 273.5,273.4 273.6,273.1 273.6,273.3 273.7,273.9 273.9,273.7 274.0,274.2 274.1,274.1 274.2,274.3 274.2,274.7 274.4,274.6 274.5,274.9 274.6,274.7 274.7,275.2 274.7,275.3 275.0,275.1 275.0,275.2 275.1,275.4 275.2,275.6 275.2,276.4 275.5,276.6 275.5,277.2 275.6,277.0 275.7,277.1 275.8,277.7 276.0,277.7 276.1,277.4 276.1,277.4 276.2,277.5 276.3,277.0 276.5,275.6 276.6,275.2 276.6,275.1 276.7,274.7 276.8,274.3 277.0,274.6 277.1,274.2 277.1,274.0 277.2,273.4 277.3,273.7 277.5,273.3 277.6,273.0 277.7,273.2 277.7,273.2 277.8,273.4 278.0,273.4 278.1,273.2 278.2,273.2 278.2,272.7 278.3,272.8 278.5,272.3 278.6,272.2 278.7,272.4 278.7,272.4 278.8,272.5 279.0,271.5 279.1,271.4 279.2,271.8 279.3,272.7 279.3,272.5 279.5,272.6 279.6,272.5 279.7,272.6 279.8,272.7 279.8,272.6 280.1,273.1 280.1,272.7 280.2,273.0 280.3,272.9 280.3,273.3 280.6,274.1 280.6,273.9 280.7,273.8 280.8,274.0 280.9,273.9 281.1,273.8 281.2,273.6 281.2,274.5 281.3,275.0 281.4,274.7 281.6,274.6 281.7,274.9 281.7,274.5 281.8,274.5 281.9,274.0 282.1,274.1 282.2,274.5 282.2,274.8 282.3,275.2 282.4,275.4 282.6,275.6 282.7,276.0 282.8,275.8 282.8,276.9 282.9,277.1 283.1,277.5 283.2,277.6 283.3,277.3 283.3,277.1 283.4,277.1 283.6,278.0 283.7,278.2 283.8,278.3 283.8,278.5 283.9,277.7 284.1,278.3 284.2,278.5 284.3,278.3 284.4,278.4 284.4,278.9 284.6,279.8 284.7,279.9 284.8,280.3 284.9,280.7 284.9,280.6 285.2,279.5 285.2,279.2 285.3,279.2 285.4,279.0 285.5,278.9 285.7,280.1 285.7,279.3 285.8,279.2 285.9,279.1 286.0,279.1 286.2,277.8 286.3,277.4 286.3,277.3 286.4,277.8 286.5,278.2 286.7,280.4 286.8,281.0 286.8,281.8 286.9,282.4 287.0,282.5 287.2,283.2 287.3,283.3 287.3,283.5 287.4,283.6 287.5,283.3 287.7,283.0 287.8,282.3 287.9,282.5 287.9,281.9 288.0,281.6 288.2,281.4 288.3,281.2 288.4,281.3 288.4,281.6 288.5,281.5 288.7,280.6 288.8,280.2 288.9,280.4 288.9,280.3 289.0,280.2 289.2,279.4 289.3,279.3 289.4,278.5 289.5,279.2 289.5,279.1 289.8,278.6 289.8,278.5 289.9,278.9 290.0,279.0 290.0,278.8 290.3,277.6 290.3,277.2 290.4,277.0 290.5,277.2 290.6,277.1 290.8,277.0 290.8,277.1 290.9,277.4 291.0,277.7 291.1,277.6 291.3,277.0 291.4,276.8 291.4,276.7 291.5,277.0 291.6,277.2 291.8,277.0 291.9,277.2 291.9,277.1 292.0,277.0 292.1,276.6 292.3,276.5 292.4,276.3 292.4,275.7 292.5,275.7 292.6,275.7 292.8,275.3 292.9,275.0 293.0,275.3 293.0,274.4 293.1,274.0 293.3,275.0 293.4,275.0 293.5,276.0 293.5,276.2 293.6,276.8 293.8,276.5 293.9,277.2 294.0,276.9 294.1,276.8 294.1,277.1 294.3,277.1 294.4,277.3 294.5,277.7 294.6,277.5 294.6,278.4 294.8,278.7 294.9,278.5 294.9,279.1 295.0,279.6 295.1,279.9 295.1,279.7 295.4,280.6 295.4,280.3 295.5,280.6 295.6,280.5 295.7,280.7 295.9,280.6 295.9,280.1 296.0,280.2 296.1,280.1 296.2,280.5 296.4,281.5 296.5,281.8 296.5,282.4 296.6,282.9 296.7,282.7 296.9,282.8 297.0,283.1 297.0,283.1 297.1,282.9 297.2,283.1 297.4,282.9 297.5,282.5 297.5,282.8 297.6,282.3 297.7,282.1 297.9,281.4 298.0,281.5 298.1,281.6 298.1,281.7 298.2,281.6 298.4,280.8 298.5,280.9 298.6,280.9 298.6,280.5 298.7,280.2 298.9,280.5 299.0,280.8 299.1,280.3 299.2,280.0 299.2,279.5 299.4,279.1 299.5,278.9 299.6,279.0 299.7,278.9 299.7,278.3 300.0,279.8 300.0,279.6 300.1,279.2 300.2,279.4 300.2,279.2 300.5,279.5 300.5,279.5 300.6,279.6 300.7,279.3 300.8,278.6 301.0,279.2 301.0,278.9 301.1,278.7 301.2,278.5 301.3,278.2 301.5,278.7 301.6,278.4 301.6,278.8 301.7,278.4 301.8,278.3 302.0,279.3 302.1,279.0 302.1,279.3 302.2,279.6 302.3,280.2 302.5,280.3 302.6,281.0 302.7,280.4 302.7,279.9 302.8,279.7 303.0,281.0 303.1,280.9 303.2,280.5 303.2,280.9 303.3,281.0 303.5,281.2 303.6,280.7 303.7,281.0 303.7,280.9 303.8,280.7 304.0,281.7 304.1,281.5 304.2,281.8 304.3,282.2 304.3,282.3 304.5,283.4 304.6,283.1 304.7,283.3 304.8,283.2 304.8,283.8 305.1,284.4 305.1,285.0 305.2,285.1 305.3,285.1 305.3,285.7 305.6,286.6 305.6,286.5 305.7,286.3 305.8,286.3 305.9,286.6 306.1,287.2 306.1,287.3 306.2,287.5 306.3,287.3 306.4,286.7 306.6,286.0 306.7,285.6 306.7,285.5 306.8,285.5 306.9,285.0 307.1,284.4 307.2,284.0 307.2,283.6 307.3,283.4 307.4,283.1 307.6,282.2 307.7,282.4 307.8,282.6 307.8,282.5 307.9,282.1 308.1,282.3 308.2,282.3 308.3,282.1 308.3,282.2 308.4,282.5 308.6,282.7 308.7,283.1 308.8,283.4 308.8,283.5 308.9,283.8 309.1,284.9 309.2,284.5 309.3,284.6 309.4,284.6 309.4,284.4 309.6,285.1 309.7,285.8 309.8,285.6 309.9,285.6 309.9,285.6 310.2,286.4 310.2,286.5 310.3,286.3 310.4,286.4 310.4,285.7 310.7,285.2 310.7,284.9 310.8,284.9 310.9,284.5 311.0,283.7 311.2,283.8 311.2,284.2 311.3,283.8 311.4,283.3 311.5,282.8 311.7,282.7 311.8,282.7 311.8,282.8 311.9,282.9 312.0,282.5 312.2,281.2 312.3,281.5 312.3,281.0 312.4,280.8 312.5,280.8 312.7,281.4 312.8,281.5 312.9,282.2 312.9,282.7 313.0,283.3 313.2,283.0 313.3,283.6 313.4,283.7 313.4,283.7 313.5,284.2 313.7,284.7 313.8,284.7 313.9,284.7 313.9,285.2 314.0,286.0 314.2,286.5 314.3,286.7 314.4,286.6 314.5,287.0 314.5,286.6 314.7,286.7 314.7,286.6 314.8,286.4 314.9,286.4 315.0,287.0 315.0,287.3 315.3,286.7 315.3,286.7 315.4,287.0 315.5,287.3 315.5,287.6 315.8,286.9 315.8,286.9 315.9,286.4 316.0,286.4 316.1,286.8 316.3,286.2 316.4,286.2 316.4,286.4 316.5,286.5 316.6,286.9 316.8,288.0 316.9,288.5 316.9,288.6 317.0,288.6 317.1,288.0 317.3,287.1 317.4,287.1 317.4,287.0 317.5,287.0 317.6,287.1 317.8,287.3 317.9,287.3 318.0,287.6 318.0,287.6 318.1,287.4 318.3,287.2 318.4,286.7 318.5,287.0 318.5,287.0 318.6,286.8 318.8,286.0 318.9,286.4 319.0,286.5 319.0,286.0 319.1,286.0 319.3,285.0 319.4,285.2 319.5,284.8 319.6,284.4 319.6,283.6 319.8,283.3 319.9,283.1 320.0,282.5 320.1,282.0 320.1,281.4 320.4,280.2 320.4,279.9 320.5,280.0 320.6,279.2 320.6,278.8 320.9,278.1 320.9,277.5 321.0,276.8 321.1,277.5 321.2,277.3 321.4,277.6 321.4,277.5 321.5,277.3 321.6,277.1 321.7,277.5 321.9,277.2 322.0,276.4 322.0,276.3 322.1,276.4 322.2,277.2 322.4,276.8 322.5,277.1 322.5,276.8 322.6,277.3 322.7,277.2 322.9,276.5 323.0,276.5 323.0,276.4 323.1,276.1 323.2,276.8 323.4,277.0 323.5,277.4 323.6,277.3 323.6,277.3 323.7,277.9 323.9,279.3 324.0,279.3 324.1,279.2 324.1,279.1 324.2,279.4 324.4,279.1 324.5,278.7 324.6,279.0 324.6,278.7 324.7,278.9 324.9,278.9 325.0,278.8 325.1,278.7 325.1,278.9 325.2,278.7 325.4,278.9 325.5,278.3 325.6,278.2 325.7,278.4 325.7,277.8 325.9,277.2 326.0,277.0 326.1,275.9 326.2,275.8 326.2,275.4 326.5,276.0 326.5,276.3 326.6,276.1 326.7,276.0 326.7,275.3 327.0,275.0 327.0,275.2 327.1,274.8 327.2,275.0 327.3,274.8 327.5,275.3 327.5,275.7 327.6,276.0 327.7,276.3 327.8,276.6 328.0,277.3 328.1,277.3 328.1,277.1 328.2,277.2 328.3,277.1 328.5,276.7 328.6,277.5 328.6,277.1 328.7,277.4 328.8,278.3 329.0,279.9 329.1,280.0 329.1,280.0 329.2,279.6 329.3,279.2 329.5,278.5 329.6,278.1 329.7,277.7 329.7,277.4 329.8,276.7 330.0,276.3 330.1,276.1 330.2,275.9 330.2,275.7 330.3,275.3 330.5,274.0 330.6,273.6 330.7,273.3 330.7,273.7 330.8,273.2 331.0,272.3 331.1,271.9 331.2,271.8 331.3,272.3 331.3,272.5 331.5,271.4 331.6,270.9 331.7,270.8 331.8,271.3 331.8,271.7 332.1,271.9 332.1,272.4 332.2,273.1 332.3,273.1 332.3,273.8 332.6,273.6 332.6,273.7 332.7,274.0 332.8,274.7 332.9,275.3 333.1,273.9 333.1,274.5 333.2,274.3 333.3,274.3 333.4,274.0 333.6,273.7 333.7,273.5 333.7,272.9 333.8,273.0 333.9,272.5 334.1,273.2 334.2,273.2 334.2,273.5 334.3,273.5 334.4,273.1 334.6,272.2 334.7,272.9 334.7,273.3 334.8,272.9 334.9,272.9 335.1,274.3 335.2,273.9 335.3,273.6 335.3,273.9 335.4,273.6 335.6,273.7 335.7,273.9 335.8,274.2 335.8,274.0 335.9,274.6 336.1,274.3 336.2,274.4 336.3,275.1 336.3,274.6 336.4,274.2 336.6,272.7 336.7,272.4 336.8,272.4 336.9,273.2 336.9,272.8 337.1,272.5 337.2,272.2 337.3,272.6 337.4,272.4 337.4,272.4 337.7,272.7 337.7,272.8 337.8,272.6 337.9,273.0 337.9,273.8 338.2,275.8 338.2,276.2 338.3,276.4 338.4,276.7 338.4,277.0 338.7,276.5 338.7,276.2 338.8,275.6 338.9,275.7 339.0,275.7 339.2,274.8 339.2,274.9 339.3,274.5 339.4,274.6 339.5,274.9 339.7,274.6 339.8,274.7 339.8,274.6 339.9,274.7 340.0,274.5 340.2,274.7 340.3,274.8 340.3,275.0 340.4,274.7 340.5,274.7 340.7,274.7 340.8,275.1 340.8,275.5 340.9,276.1 341.0,276.3 341.2,276.9 341.3,277.5 341.4,278.2 341.4,278.5 341.5,278.7 341.7,278.4 341.8,278.1 341.9,278.7 341.9,278.7 342.0,278.6 342.2,278.8 342.3,279.3 342.4,279.7 342.4,280.0 342.5,279.7 342.7,280.4 342.8,281.0 342.9,281.2 343.0,281.3 343.0,281.8 343.2,283.1 343.3,283.3 343.4,283.7 343.5,284.3 343.5,284.7 343.8,284.4 343.8,284.2 343.9,284.6 344.0,284.4 344.0,284.1 344.3,283.9 344.3,283.8 344.4,283.3 344.5,283.1 344.6,282.9 344.8,282.2 344.8,282.2 344.9,281.9 345.0,281.7 345.1,281.6 345.3,281.7 345.4,281.5 345.4,281.5 345.5,281.1 345.6,281.1 345.7,280.6 345.8,280.5 345.9,280.6 345.9,280.3 346.0,280.2 346.1,279.8 346.3,280.0 346.4,280.2 346.4,280.1 346.5,279.9 346.6,279.4 346.8,278.9 346.9,278.9 347.0,278.8 347.0,278.8 347.1,279.0 347.3,278.7 347.4,278.7 347.5,279.1 347.5,279.0 347.6,278.6 347.8,278.8 347.9,278.3 348.0,277.7 348.1,277.8 348.1,277.6 348.3,277.7 348.4,277.6 348.5,277.1 348.6,276.9 348.6,277.0 348.9,277.9 348.9,278.1 349.0,278.2 349.1,278.0 349.1,279.0 349.4,280.3 349.4,279.8 349.5,280.0 349.6,280.3 349.7,280.2 349.9,281.8 349.9,281.7 350.0,281.8 350.1,281.9 350.2,281.7 350.4,281.4 350.5,281.2 350.5,280.3 350.6,280.4 350.7,280.0 350.9,279.3 351.0,279.2 351.0,278.8 351.1,278.2 351.2,277.7 351.4,277.1 351.5,277.6 351.6,277.7 351.6,277.5 351.7,277.2 351.9,275.6 352.0,275.4 352.1,275.8 352.1,275.8 352.2,275.6 352.4,275.3 352.5,275.8 352.6,276.2 352.6,276.9 352.7,276.7 352.9,278.0 353.0,278.2 353.1,278.1 353.2,278.4 353.2,277.8 353.4,278.0 353.5,278.3 353.6,278.2 353.7,277.7 353.7,278.0 354.0,278.4 354.0,279.1 354.1,279.1 354.2,279.2 354.2,278.9 354.5,278.7 354.5,278.3 354.6,278.8 354.7,278.4 354.8,278.3 355.0,276.9 355.0,276.8 355.1,276.7 355.2,276.8 355.3,276.5 355.5,276.2 355.6,275.5 355.6,275.1 355.7,275.1 355.8,275.2 356.0,275.1 356.1,274.9 356.1,275.2 356.2,275.9 356.3,276.2 356.5,276.3 356.6,276.4 356.7,276.2 356.7,276.1 356.8,276.3 357.0,276.8 357.1,277.1 357.2,277.3 357.2,277.8 357.3,278.2 357.5,278.8 357.6,278.9 357.7,278.7 357.7,278.7 357.8,278.8 358.0,278.9 358.1,278.9 358.2,278.6 358.3,278.9 358.3,279.3 358.5,279.5 358.6,279.4 358.7,279.3 358.8,279.2 358.8,279.3 359.1,278.8 359.1,279.3 359.2,279.4 359.3,279.7 359.3,279.8 359.6,279.5 359.6,279.5 359.7,279.1 359.8,278.8 359.9,279.1 360.1,279.0 360.1,279.0 360.2,278.5 360.3,278.3 360.4,278.2 360.6,278.1 360.7,277.7 360.7,277.1 360.8,276.7 360.9,276.6 361.1,275.6 361.2,275.5 361.2,274.8 361.3,274.1 361.4,273.8 361.6,273.4 361.7,273.5 361.8,273.0 361.8,273.2 361.9,273.1 362.1,272.5 362.2,272.3 362.3,272.6 362.3,272.9 362.4,272.8 362.6,272.2 362.7,272.4 362.8,272.3 362.8,271.7 362.9,271.9 363.1,272.1 363.2,272.5 363.3,272.7 363.4,273.0 363.4,273.0 363.6,273.3 363.7,273.2 363.8,272.8 363.9,272.7 363.9,273.4 364.2,273.8 364.2,274.3 364.3,274.3 364.4,274.2 364.4,274.4 364.7,275.2 364.7,275.4 364.8,275.1 364.9,275.8 365.0,276.0 365.2,275.1 365.3,274.8 365.3,275.1 365.4,275.4 365.5,275.9 365.7,275.9 365.8,276.0 365.8,276.2 365.9,276.0 366.0,275.7 366.2,276.3 366.3,277.1 366.3,277.0 366.4,277.2 366.5,277.4 366.7,276.1 366.8,275.9 366.9,275.8 366.9,276.0 367.0,275.9 367.2,275.6 367.3,275.5 367.4,275.2 367.4,274.8 367.5,275.1 367.7,275.5 367.8,275.4 367.9,275.5 367.9,275.3 368.0,275.3 368.2,276.0 368.3,276.3 368.4,276.6 368.5,276.3 368.5,276.6 368.7,277.4 368.8,276.8 368.9,277.3 369.0,277.5 369.0,277.7 369.3,278.4 369.3,278.4 369.4,277.7 369.5,277.9 369.6,277.8 369.8,278.2 369.8,277.8 369.9,277.5 370.0,277.4 370.1,277.8 370.3,276.5 370.4,275.9 370.4,275.6 370.5,275.5 370.6,275.4 370.8,275.3 370.9,275.0 370.9,274.6 371.0,274.5 371.1,274.6 371.3,274.0 371.4,273.8 371.4,273.5 371.5,273.3 371.6,273.1 371.8,272.4 371.9,271.8 372.0,272.2 372.0,273.1 372.1,272.9 372.3,273.7 372.4,273.6 372.5,273.6 372.5,273.7 372.6,273.4 372.8,271.4 372.9,271.5 373.0,271.3 373.0,271.2 373.1,270.9 373.3,270.9 373.4,271.2 373.5,271.0 373.6,270.6 373.6,270.8 373.9,271.2 373.9,271.0 374.0,271.5 374.1,271.0 374.1,271.1 374.4,272.2 374.4,272.4 374.5,272.1 374.6,272.8 374.7,273.0 374.9,273.2 374.9,273.6 375.0,273.6 375.1,273.7 375.2,273.1 375.4,273.4 375.5,274.0 375.5,274.2 375.6,273.6 375.7,273.0 375.9,274.0 376.0,273.7 376.0,273.7 376.1,273.7 376.2,273.8 376.4,273.5 376.5,273.4 376.5,273.0 376.6,273.1 376.7,272.7 376.9,273.1 377.0,272.5 377.1,272.6 377.1,272.8 377.2,273.2 377.4,272.5 377.5,272.6 377.6,272.9 377.6,272.3 377.7,272.1 377.9,272.2 378.0,272.2 378.1,271.9 378.2,271.9 378.2,271.8 378.4,271.7 378.5,271.6 378.6,271.5 378.7,271.8 378.7,272.2 379.0,272.9 379.0,273.2 379.1,272.7 379.2,272.5 379.2,272.8 379.5,273.1 379.5,272.5 379.6,272.7 379.7,272.9 379.8,273.5 380.0,274.5 380.0,275.2 380.1,274.9 380.2,275.1 380.3,275.3 380.5,275.0 380.6,275.2 380.6,274.7 380.7,274.2 380.8,273.8 381.0,274.1 381.1,274.3 381.1,274.3 381.2,275.1 381.3,275.2 381.5,275.6 381.6,275.1 381.6,275.0 381.7,275.3 381.8,274.6 382.0,275.7 382.1,276.0 382.2,276.8 382.2,276.8 382.3,276.6 382.5,276.4 382.6,276.0 382.7,276.6 382.7,276.7 382.8,276.2 383.0,275.3 383.1,275.3 383.2,275.5 383.3,275.2 383.3,275.5 383.5,276.6 383.6,276.0 383.7,276.0 383.8,275.9 383.8,276.6 384.1,276.3 384.1,277.1 384.2,277.1 384.3,277.3 384.3,277.3 384.6,278.5 384.6,278.3 384.7,278.2 384.8,277.9 384.9,278.3 385.1,278.1 385.1,277.8 385.2,277.8 385.3,277.8 385.4,278.4 385.5,278.0 385.6,278.3 385.7,278.4 385.7,279.0 385.8,279.5 385.9,279.4 386.1,279.8 386.2,280.0 386.2,280.5 386.3,280.7 386.4,280.1 386.6,279.9 386.7,280.1 386.7,280.0 386.8,280.0 386.9,279.9 387.1,280.0 387.2,280.8 387.3,281.7 387.3,282.1 387.4,281.6 387.6,281.4 387.7,281.2 387.8,281.4 387.8,281.7 387.9,281.5 388.1,280.7 388.2,280.8 388.3,280.4 388.4,280.2 388.4,279.7 388.6,280.8 388.7,280.6 388.8,280.7 388.9,280.6 388.9,280.7 389.2,280.4 389.2,280.6 389.3,281.3 389.4,281.4 389.4,281.2 389.7,281.2 389.7,281.4 389.8,281.0 389.9,280.4 390.0,280.3 390.0,280.3 390.2,280.2 390.2,280.4 390.3,279.9 390.4,279.5 390.5,279.6 390.7,279.9 390.8,280.0 390.8,280.0 390.9,280.7 391.0,280.4 391.2,280.0 391.3,280.3 391.3,280.5 391.4,280.8 391.5,280.1 391.7,280.2 391.8,279.9 391.9,279.4 391.9,279.6 392.0,279.2 392.2,279.3 392.3,279.6 392.4,279.0 392.4,279.1 392.5,278.7 392.7,278.5 392.8,278.4 392.9,278.9 392.9,278.8 393.0,278.9 393.2,279.7 393.3,280.3 393.4,280.0 393.5,280.4 393.5,280.6 393.7,280.7 393.8,280.4 393.9,280.4 394.0,280.5 394.0,280.2 394.3,280.1 394.3,280.1 394.4,279.8 394.5,279.7 394.5,280.0 394.8,279.9 394.8,279.9 394.9,279.1 395.0,278.5 395.1,278.5 395.3,278.5 395.3,278.4 395.4,278.1 395.5,277.5 395.6,277.7 395.8,278.3 395.9,278.1 395.9,277.9 396.0,277.6 396.1,277.6 396.3,277.1 396.4,276.7 396.4,276.1 396.5,276.3 396.6,276.9 396.7,277.4 396.8,276.9 396.9,276.8 397.0,276.8 397.0,276.6 397.1,275.5 397.3,275.9 397.4,275.8 397.5,275.6 397.5,276.0 397.6,275.5 397.8,275.0 397.9,275.1 398.0,275.7 398.0,275.4 398.1,275.8 398.3,275.9 398.4,276.1 398.5,275.8 398.6,275.2 398.6,275.4 398.8,275.1 398.9,275.0 399.0,275.3 399.1,274.9 399.1,274.3 399.4,274.5 399.4,273.8 399.5,273.8 399.6,274.2 399.6,273.9 399.9,275.3 399.9,274.8 400.0,273.9 400.1,274.1 400.2,274.3 400.4,274.5 400.5,273.9 400.5,274.2 400.6,274.0 400.7,274.6 400.9,274.3 401.0,273.7 401.0,273.7 401.1,273.2 401.2,272.8 401.4,272.3 401.5,272.2 401.5,272.2 401.6,271.7 401.7,272.0 401.9,272.1 402.0,272.5 402.1,272.9 402.1,273.2 402.2,273.1 402.4,273.5 402.5,273.6 402.6,273.5 402.6,273.3 402.7,273.6 402.9,274.2 403.0,274.8 403.1,274.5 403.1,274.4 403.2,274.5 403.4,275.1 403.5,275.7 403.6,275.1 403.7,273.9 403.7,274.4 403.9,274.4 404.0,274.9 404.1,275.6 404.2,275.4 404.2,276.1 404.5,275.8 404.5,275.8 404.6,276.0 404.7,276.0 404.8,276.1 405.0,275.7 405.0,275.9 405.1,276.2 405.2,276.4 405.3,276.4 405.5,275.3 405.6,274.8 405.6,274.6 405.7,274.6 405.8,274.8 406.0,275.5 406.1,276.1 406.1,276.7 406.2,276.1 406.3,276.1 406.5,276.3 406.6,276.3 406.6,276.0 406.7,276.2 406.8,275.9 407.0,275.3 407.1,275.5 407.2,275.1 407.2,275.1 407.3,274.6 407.5,274.0 407.6,274.2 407.7,274.4 407.7,274.1 407.8,274.3 408.0,272.6 408.1,273.0 408.2,272.9 408.2,273.0 408.3,273.5 408.5,272.4 408.6,272.0 408.7,271.4 408.8,271.6 408.8,271.6 409.1,271.4 409.1,271.2 409.2,271.1 409.3,270.6 409.3,271.1 409.6,271.2 409.6,270.9 409.7,271.0 409.8,269.8 409.9,269.9 410.1,268.5 410.1,268.4 410.2,268.6 410.3,268.6 410.4,268.2 410.6,267.3 410.7,267.5 410.7,268.2 410.8,268.0 410.9,268.5 411.1,269.8 411.2,270.0 411.2,269.6 411.3,270.0 411.4,270.3 411.6,269.1 411.7,269.0 411.7,267.9 411.8,267.8 411.9,267.7 412.1,268.1 412.2,268.1 412.3,267.8 412.3,268.3 412.4,268.6 412.6,268.8 412.7,268.8 412.8,268.8 412.8,268.4 412.9,268.3 413.1,268.0 413.2,268.0 413.3,268.7 413.3,268.3 413.4,268.7 413.6,268.2 413.7,267.7 413.8,266.8 413.9,265.9 413.9,265.1 414.2,264.1 414.2,263.9 414.3,263.3 414.4,263.2 414.4,263.1 414.7,263.5 414.7,262.9 414.8,262.3 414.9,262.3 415.0,262.0 415.2,260.4 415.2,260.7 415.3,260.0 415.4,259.9 415.5,260.0 415.7,260.5 415.8,261.0 415.8,260.2 415.9,260.3 416.0,260.1 416.2,260.5 416.3,261.0 416.3,260.7 416.4,260.4 416.5,260.9 416.7,261.4 416.8,261.3 416.8,261.4 416.9,261.7 417.0,261.6 417.2,261.9 417.3,262.2 417.4,261.8 417.4,261.6 417.5,261.9 417.7,262.1 417.8,262.5 417.9,263.2 417.9,263.7 418.0,263.6 418.2,263.5 418.3,263.4 418.4,263.1 418.5,262.9 418.5,262.5 418.7,262.4 418.8,263.5 418.9,263.6 419.0,263.7 419.0,263.6 419.3,263.1 419.3,263.5 419.4,263.8 419.5,263.8 419.5,263.7 419.8,264.1 419.8,263.8 419.9,263.4 420.0,263.1 420.1,263.0 420.3,263.2 420.3,264.0 420.4,264.3 420.5,264.4 420.6,264.7 420.8,265.6 420.9,265.7 420.9,265.6 421.0,265.5 421.1,265.1 421.3,265.2 421.4,266.3 421.4,266.4 421.5,266.1 421.6,266.2 421.8,266.4 421.9,266.5 421.9,266.4 422.0,265.9 422.1,265.6 422.3,264.3 422.4,263.9 422.5,264.1 422.5,264.1 422.6,264.2 422.8,264.7 422.9,264.0 423.0,264.2 423.0,264.4 423.1,264.3 423.3,264.4 423.3,264.3 423.4,264.6 423.5,265.3 423.6,265.6 423.6,264.7 423.8,263.8 423.9,263.6 424.0,263.2 424.1,263.5 424.1,263.5 424.4,263.0 424.4,262.2 424.5,262.2 424.6,261.0 424.6,260.8 424.9,259.4 424.9,258.9 425.0,259.2 425.1,258.6 425.2,257.8 425.4,258.2 425.4,257.7 425.5,257.5 425.6,257.4 425.7,257.8 425.9,256.5 426.0,255.7 426.0,256.1 426.1,255.6 426.2,255.9 426.4,254.6 426.5,254.7 426.5,254.4 426.6,253.8 426.7,254.1 426.9,253.8 427.0,253.9 427.0,254.0 427.1,254.0 427.2,253.4 427.4,253.7 427.5,253.9 427.6,254.1 427.6,254.1 427.7,253.9 427.9,254.8 428.0,254.7 428.1,253.5 428.1,253.9 428.2,253.8 428.4,253.4 428.5,255.1 428.6,256.8 428.6,257.6 428.7,258.3 428.9,256.5 429.0,256.5 429.1,255.4 429.2,255.0 429.2,254.8 429.4,253.0 429.5,254.6 429.6,256.1 429.7,257.7 429.7,258.8 430.0,261.7 430.0,262.2 430.1,263.3 430.2,264.8 430.2,265.2 430.5,263.8 430.5,263.1 430.6,262.3 430.7,262.4 430.8,262.2 431.0,260.1 431.0,259.7 431.1,260.0 431.2,258.9 431.3,259.0 431.5,258.0 431.5,256.3 431.6,255.6 431.7,254.7 431.8,254.3 432.0,251.5 432.1,250.3 432.1,251.1 432.2,251.4 432.3,251.3 432.5,251.1 432.6,250.4 432.6,250.9 432.7,250.7 432.8,251.1 433.0,250.8 433.1,250.9 433.1,250.9 433.2,251.5 433.3,250.9 433.5,251.0 433.6,251.2 433.7,250.6 433.7,250.5 433.8,250.9 434.0,250.0 434.1,249.8 434.2,250.0 434.2,250.6 434.3,250.9 434.5,252.0 434.6,251.7 434.7,252.4 434.7,253.0 434.8,253.1 435.0,253.4 435.1,254.3 435.2,253.9 435.3,253.2 435.3,252.5 435.5,252.4 435.6,252.1 435.7,252.4 435.8,252.6 435.8,252.7 436.1,252.0 436.1,253.1 436.2,252.7 436.3,252.1 436.3,251.7 436.6,250.0 436.6,250.7 436.7,250.9 436.8,250.7 436.9,250.4 437.1,249.1 437.1,250.3 437.2,249.5 437.3,248.8 437.4,248.3 437.6,247.3 437.7,246.9 437.7,247.0 437.8,246.3 437.9,246.5 438.1,246.5 438.2,245.9 438.2,245.7 438.3,246.0 438.4,245.8 438.6,244.7 438.7,243.5 438.7,243.5 438.8,242.6 438.9,242.5 439.1,241.2 439.2,240.1 439.3,239.7 439.3,238.6 439.4,237.5 439.6,236.8 439.7,235.3 439.8,235.1 439.8,234.0 439.9,232.9 440.1,231.3 440.2,231.2 440.3,231.3 440.3,231.2 440.4,232.9 440.6,238.3 440.7,239.8 440.8,240.2 440.9,239.4 440.9,238.8 441.1,237.5 441.2,237.6 441.3,237.9 441.4,238.1 441.4,237.8 441.7,236.2 441.7,236.4 441.8,236.4 441.9,236.4 441.9,236.4 442.2,236.4 442.2,236.5 442.3,236.7 442.4,237.5 442.5,237.5 442.7,237.4 442.7,238.1 442.8,238.8 442.9,239.5 443.0,239.9 443.2,240.9 443.3,241.8 443.3,242.2 443.4,242.7 443.5,242.3 443.7,241.9 443.8,242.2 443.8,242.4 443.9,242.6 444.0,241.2 444.2,242.0 444.3,241.8 444.3,241.9 444.4,241.6 444.5,242.0 444.7,241.5 444.8,241.1 444.8,241.3 444.9,241.8 445.0,241.5 445.2,241.4 445.3,240.9 445.4,240.7 445.4,240.5 445.5,240.4 445.7,240.5 445.8,240.1 445.9,240.3 445.9,239.2 446.0,238.3 446.2,238.3 446.3,238.2 446.4,238.6 446.4,237.7 446.5,238.1 446.7,237.5 446.8,236.9 446.9,237.5 447.0,237.8 447.0,237.6 447.2,239.8 447.3,240.1 447.4,241.1 447.5,241.1 447.5,240.3 447.8,240.6 447.8,241.4 447.9,242.0 448.0,242.9 448.0,243.2 448.3,243.8 448.3,244.7 448.4,245.2 448.5,244.8 448.6,245.0 448.8,247.4 448.8,246.9 448.9,247.0 449.0,246.1 449.1,246.0 449.3,245.9 449.4,245.1 449.4,245.0 449.5,245.6 449.6,245.3 449.8,243.9 449.9,242.8 449.9,242.3 450.0,241.8 450.1,242.0 450.3,241.7 450.4,241.3 450.4,240.6 450.5,239.4 450.6,239.1 450.8,238.1 450.9,238.1 451.0,238.0 451.0,238.0 451.1,237.7 451.3,237.4 451.4,237.6 451.5,238.7 451.5,239.6 451.6,239.5 451.8,239.4 451.9,239.3 452.0,239.8 452.0,240.0 452.1,240.0 452.3,239.6 452.4,239.5 452.5,239.1 452.6,239.1 452.6,238.7 452.8,241.0 452.9,241.2 453.0,240.2 453.1,240.3 453.1,240.4 453.4,241.5 453.4,242.0 453.5,242.3 453.6,242.4 453.7,243.0 453.9,244.6 453.9,245.2 454.0,245.7 454.1,245.5 454.2,245.0 454.4,245.7 454.5,246.8 454.5,247.4 454.6,247.0 454.7,246.9 454.9,248.0 455.0,248.1 455.0,248.5 455.1,248.6 455.2,249.4 455.4,250.1 455.5,251.0 455.5,250.7 455.6,251.1 455.7,251.7 455.9,252.8 456.0,252.3 456.1,252.2 456.1,252.6 456.2,252.0 456.4,250.0 456.5,250.6 456.6,249.7 456.6,249.7 456.7,249.8 456.9,249.9 457.0,250.4 457.1,251.5 457.1,251.6 457.2,251.7 457.4,252.7 457.5,252.7 457.6,252.6 457.7,252.6 457.7,252.7 458.0,252.1 458.0,251.1 458.1,250.6 458.2,250.4 458.2,250.7 458.5,248.9 458.5,249.0 458.6,249.1 458.7,248.4 458.8,248.7 459.0,248.0 459.0,248.6 459.1,248.3 459.2,247.5 459.3,247.7 459.5,247.3 459.6,247.5 459.6,246.8 459.7,246.8 459.8,246.5 460.0,246.5 460.1,246.8 460.1,247.5 460.2,247.6 460.3,246.9 460.5,244.4 460.6,243.5 460.6,243.3 460.7,243.3 460.8,243.0 460.9,243.3 461.0,242.7 461.1,242.3 461.2,242.5 461.2,242.3 461.3,241.6 461.5,241.1 461.6,240.4 461.7,240.3 461.7,240.6 461.8,241.1 462.0,240.6 462.1,240.1 462.2,239.9 462.3,240.1 462.3,240.3 462.5,242.1 462.6,242.6 462.7,242.6 462.8,243.5 462.8,244.0 463.1,244.4 463.1,244.2 463.2,244.6 463.3,244.9 463.3,246.3 463.6,246.5 463.6,246.9 463.7,247.4 463.8,247.6 463.9,248.0 464.1,248.1 464.1,248.4 464.2,247.8 464.3,247.3 464.4,246.9 464.6,246.2 464.7,245.8 464.7,245.4 464.8,245.6 464.9,245.4 465.1,245.3 465.2,244.7 465.2,244.5 465.3,244.5 465.4,244.7 465.6,245.1 465.7,246.1 465.7,246.8 465.8,246.8 465.9,246.9 466.1,248.3 466.2,248.8 466.3,249.3 466.3,249.4 466.4,249.9 466.6,250.8 466.7,251.1 466.8,250.6 466.8,250.0 466.9,249.7 467.1,250.1 467.2,249.7 467.3,250.4 467.4,250.3 467.4,250.6 467.6,250.0 467.7,248.9 467.8,248.9 467.9,247.7 467.9,247.7 468.2,246.9 468.2,247.1 468.3,246.3 468.4,246.2 468.4,245.9 468.7,245.0 468.7,244.7 468.8,244.3 468.9,244.5 469.0,244.6 469.2,245.4 469.2,245.2 469.3,245.0 469.4,245.0 469.5,245.7 469.7,246.6 469.8,246.4 469.8,246.8 469.9,247.5 470.0,247.5 470.2,249.6 470.3,250.2 470.3,251.0 470.4,251.5 470.5,251.3 470.7,250.3 470.8,250.1 470.8,250.3 470.9,249.9 471.0,249.9 471.2,249.1 471.3,249.2 471.4,248.6 471.4,248.6 471.5,248.2 471.7,247.7 471.8,247.2 471.9,247.8 471.9,247.1 472.0,247.4 472.2,247.3 472.3,247.5 472.4,247.6 472.5,247.4 472.5,246.9 472.7,245.2 472.8,245.6 472.9,244.8 473.0,244.9 473.0,244.5 473.3,244.9 473.3,244.7 473.4,243.7 473.5,243.6 473.5,243.7 473.8,243.4 473.8,243.3 473.9,243.2 474.0,242.6 474.1,242.1 474.3,242.9 474.3,242.5 474.4,242.2 474.5,242.6 474.6,241.8 474.8,241.3 474.9,240.7 474.9,240.9 475.0,240.9 475.1,241.9 475.3,243.5 475.4,243.3 475.4,243.6 475.5,243.3 475.6,243.3 475.8,244.5 475.9,245.3 476.0,246.0 476.0,245.5 476.1,246.2 476.3,247.1 476.4,247.5 476.5,247.4 476.5,247.0 476.6,247.2 476.8,248.8 476.9,247.9 477.0,248.1 477.0,248.4 477.1,248.1 477.3,247.5 477.4,247.0 477.5,246.7 477.6,246.9 477.6,247.1 477.8,247.3 477.9,247.6 478.0,247.4 478.1,245.7 478.1,246.0 478.4,246.3 478.4,246.4 478.5,246.0 478.6,245.9 478.6,245.2 478.9,243.9 478.9,244.8 479.0,244.0 479.1,244.7 479.2,244.0 479.4,244.1 479.4,243.5 479.5,244.8 479.6,245.5 479.7,246.7 479.9,245.8 480.0,245.2 480.0,244.9 480.1,244.6 480.2,244.2 480.4,243.8 480.5,243.0 480.5,243.1 480.6,244.0 480.7,243.3 480.9,243.0 481.0,243.0 481.1,242.3 481.1,242.0 481.2,241.6 481.4,241.5 481.5,241.0 481.6,239.9 481.6,238.9 481.7,238.2 481.9,236.5 482.0,235.0 482.1,235.7 482.1,235.2 482.2,234.9 482.4,233.7 482.5,232.0 482.6,232.5 482.7,234.7 482.7,235.8 482.9,238.4 483.0,239.4 483.1,239.9 483.2,239.9 483.2,239.1 483.5,237.4 483.5,237.5 483.6,237.1 483.7,236.8 483.7,237.2 484.0,237.8 484.0,238.0 484.1,238.1 484.2,238.3 484.3,238.5 484.5,238.8 484.6,238.5 484.6,238.1 484.7,237.9 484.8,237.6 485.0,238.3 485.1,238.0 485.1,237.2 485.2,236.8 485.3,235.7 485.5,236.0 485.6,235.9 485.6,235.4 485.7,236.2 485.8,236.3 486.0,238.3 486.1,239.3 486.2,239.0 486.2,239.2 486.3,239.0 486.5,241.0 486.6,241.4 486.7,243.0 486.7,243.4 486.8,243.4 487.0,244.0 487.1,244.3 487.2,244.8 487.2,245.3 487.3,245.5 487.5,244.8 487.6,245.4 487.7,244.6 487.8,243.9 487.8,244.1 488.0,244.3 488.1,243.9 488.2,242.7 488.3,242.4 488.3,242.7 488.6,241.2 488.6,241.3 488.7,241.2 488.8,241.9 488.9,242.5 489.1,242.5 489.1,241.8 489.2,242.7 489.3,242.9 489.4,242.1 489.6,244.8 489.7,245.3 489.7,245.6 489.8,245.3 489.9,245.0 490.1,245.2 490.2,245.8 490.2,246.8 490.3,246.6 490.4,246.3 490.6,247.3 490.7,247.4 490.7,247.7 490.8,248.5 490.9,248.7 491.1,249.3 491.2,249.5 491.3,250.0 491.3,249.6 491.4,249.5 491.6,249.2 491.7,249.4 491.8,250.2 491.8,251.3 491.9,252.1 492.1,252.2 492.2,252.5 492.3,252.0 492.3,251.9 492.4,252.3 492.6,251.9 492.7,251.3 492.8,251.1 492.9,250.4 492.9,250.1 493.1,249.3 493.2,248.6 493.3,248.8 493.4,248.9 493.4,248.5 493.7,247.7 493.7,247.2 493.8,246.6 493.9,247.1 494.0,247.4 494.2,248.7 494.2,248.7 494.3,248.5 494.4,248.2 494.5,248.4 494.7,248.8 494.8,249.4 494.8,249.1 494.9,248.9 495.0,249.2 495.2,251.5 495.3,252.1 495.3,252.4 495.4,253.1 495.5,253.1 495.7,253.0 495.8,253.5 495.8,253.5 495.9,253.7 496.0,253.4 496.2,254.4 496.3,254.5 496.4,254.7 496.4,254.5 496.5,255.4 496.7,255.9 496.8,255.4 496.9,256.0 496.9,256.2 497.0,256.1 497.2,256.2 497.3,255.1 497.4,254.4 497.4,253.9 497.5,252.7 497.7,251.0 497.8,250.3 497.9,250.7 498.0,250.7 498.0,250.4 498.3,251.5 498.3,251.2 498.4,251.4 498.5,251.9 498.5,251.7 498.8,251.3 498.8,251.8 498.9,252.3 499.0,252.4 499.1,252.8 499.3,253.7 499.3,254.1 499.4,254.5 499.5,254.4 499.6,254.5 499.8,254.6 499.9,255.0 499.9,255.1 500.0,255.8 500.1,255.6 500.3,253.2 500.4,252.8 500.4,252.6 500.5,252.6 500.6,251.1 500.8,248.4 500.9,247.3 500.9,247.5 501.0,247.7 501.1,247.2 501.3,246.0 501.4,246.2 501.5,246.4 501.5,246.7 501.6,246.6 501.8,245.9 501.9,246.3 502.0,246.4 502.0,246.8 502.1,246.5 502.3,247.7 502.4,247.9 502.5,248.0 502.6,247.3 502.6,247.4 502.8,247.7 502.9,247.4 503.0,247.3 503.1,246.3 503.1,245.7 503.4,245.6 503.4,245.6 503.5,246.0 503.6,245.9 503.6,245.1 503.9,244.9 503.9,244.2 504.0,244.9 504.1,245.3 504.2,244.8 504.4,243.8 504.4,243.4 504.5,243.1 504.6,243.3 504.7,243.1 504.9,242.3 505.0,241.1 505.0,241.6 505.1,241.5 505.2,241.3 505.3,240.6 505.4,240.6 505.5,240.3 505.5,240.0 505.6,239.8 505.7,238.7 505.9,239.2 506.0,238.6 506.0,238.5 506.1,238.5 506.2,238.9 506.4,238.5 506.5,238.4 506.6,237.6 506.6,237.7 506.7,237.9 506.9,239.7 507.0,239.4 507.1,239.2 507.1,239.1 507.2,239.5 507.4,240.1 507.5,240.7 507.6,240.1 507.7,240.2 507.7,240.8 507.9,243.3 508.0,243.9 508.1,243.2 508.2,244.0 508.2,244.0 508.5,245.2 508.5,245.8 508.6,245.1 508.7,243.9 508.7,243.5 509.0,242.2 509.0,242.2 509.1,241.8 509.2,241.3 509.3,241.2 509.5,239.6 509.5,239.8 509.6,239.7 509.7,239.9 509.8,239.2 510.0,240.4 510.1,239.4 510.1,239.2 510.2,239.8 510.3,240.2 510.5,238.5 510.6,238.6 510.6,238.7 510.7,237.7 510.8,238.1 511.0,236.9 511.1,236.2 511.2,235.9 511.2,236.3 511.3,237.0 511.5,235.9 511.6,237.2 511.7,236.5 511.7,236.1 511.8,235.3 511.9,234.8 512.0,234.0 512.1,233.6 512.2,233.7 512.2,233.6 512.3,233.3 512.5,234.4 512.6,234.0 512.7,233.5 512.8,233.2 512.8,233.6 513.0,233.8 513.1,232.8 513.2,233.4 513.3,232.0 513.3,231.8 513.6,234.2 513.6,233.6 513.7,233.1 513.8,233.1 513.8,234.2 514.1,234.8 514.1,235.1 514.2,235.1 514.3,236.1 514.4,236.6 514.6,236.7 514.6,235.6 514.7,235.5 514.8,236.4 514.9,235.9 515.1,237.4 515.2,236.9 515.2,236.5 515.3,236.6 515.4,235.8 515.6,236.6 515.7,235.5 515.7,235.8 515.8,235.8 515.9,236.0 516.1,237.7 516.2,237.9 516.3,237.6 516.3,238.0 516.4,239.0 516.6,240.0 516.7,239.8 516.8,240.2 516.8,240.1 516.9,240.2 517.1,239.9 517.2,239.8 517.3,239.4 517.3,240.0 517.4,240.3 517.6,241.0 517.7,240.6 517.8,240.6 517.9,239.0 517.9,238.4 518.1,236.2 518.2,237.0 518.3,236.3 518.4,236.1 518.4,236.8 518.7,236.1 518.7,236.0 518.8,236.4 518.9,236.1 518.9,236.6 519.2,237.2 519.2,237.1 519.3,238.2 519.4,238.8 519.5,239.5 519.7,239.5 519.7,239.1 519.8,239.2 519.9,239.3 520.0,239.2 520.2,239.0 520.3,239.4 520.3,238.9 520.4,239.5 520.5,239.7 520.7,240.3 520.8,240.2 520.8,239.7 520.9,240.5 521.0,241.1 521.2,238.9 521.3,239.4 521.4,238.8 521.4,238.4 521.5,238.0 521.7,237.6 521.8,237.8 521.9,238.2 521.9,238.5 522.0,238.2 522.2,238.1 522.3,238.6 522.4,239.4 522.4,239.3 522.5,239.4 522.7,239.6 522.8,240.1 522.9,239.8 523.0,240.0 523.0,239.6 523.2,240.5 523.3,240.9 523.4,240.4 523.5,240.6 523.5,241.4 523.8,242.6 523.8,243.0 523.9,243.2 524.0,242.6 524.0,243.8 524.3,244.4 524.3,244.5 524.4,244.1 524.5,245.0 524.6,244.6 524.8,244.4 524.9,244.5 524.9,244.1 525.0,243.7 525.1,242.4 525.3,241.0 525.4,240.2 525.4,239.0 525.5,238.7 525.6,238.7 525.8,236.4 525.9,235.1 525.9,234.3 526.0,234.3 526.1,234.4 526.3,235.0 526.4,235.4 526.5,236.0 526.5,236.5 526.6,236.7 526.8,236.3 526.9,236.4 527.0,236.1 527.0,236.7 527.1,237.1 527.3,237.9 527.4,236.8 527.5,237.1 527.5,235.6 527.6,234.8 527.8,234.3 527.9,234.7 528.0,233.9 528.1,233.9 528.1,234.0 528.3,232.9 528.4,232.7 528.5,232.7 528.6,231.6 528.6,230.7 528.9,232.2 528.9,233.0 529.0,232.7 529.1,233.1 529.2,233.3 529.4,235.6 529.4,235.9 529.5,235.2 529.6,234.5 529.7,234.4 529.9,233.1 530.0,233.2 530.0,232.7 530.1,232.0 530.2,232.8 530.4,232.0 530.5,230.0 530.5,230.4 530.6,230.8 530.7,231.3 530.9,230.0 531.0,230.8 531.0,230.3 531.1,231.2 531.2,231.2 531.4,231.9 531.5,231.4 531.6,231.6 531.6,231.9 531.7,232.2 531.9,232.9 532.0,232.7 532.1,231.8 532.1,232.4 532.2,232.6 532.4,232.6 532.5,232.2 532.6,232.0 532.6,233.1 532.7,233.6 532.9,235.3 533.0,235.1 533.1,235.1 533.2,235.2 533.2,234.7 533.4,235.7 533.5,235.6 533.6,234.8 533.7,235.0 533.7,235.2 534.0,235.0 534.0,234.9 534.1,235.2 534.2,235.1 534.2,235.1 534.5,233.5 534.5,232.8 534.6,231.9 534.7,232.9 534.8,233.0 535.0,232.0 535.0,230.2 535.1,228.9 535.2,227.6 535.3,227.0 535.5,226.8 535.6,225.8 535.6,225.3 535.7,224.5 535.8,224.6 536.0,225.4 536.1,225.1 536.1,225.2 536.2,224.9 536.3,224.4 536.5,225.7 536.6,225.6 536.6,224.7 536.7,224.7 536.8,223.2 537.0,221.1 537.1,220.1 537.2,219.1 537.2,218.6 537.3,218.5 537.5,216.4 537.6,216.3 537.7,216.3 537.7,216.9 537.8,216.8 538.0,216.0 538.1,215.4 538.2,214.6 538.2,214.5 538.3,213.8 538.5,213.2 538.6,213.0 538.7,212.4 538.7,212.3 538.8,212.5 539.0,213.0 539.1,213.4 539.2,214.8 539.3,215.1 539.3,216.5 539.5,216.3 539.6,216.1 539.7,216.9 539.8,216.8 539.8,217.6 540.1,217.5 540.1,216.6 540.2,217.4 540.3,217.0 540.3,216.1 540.6,215.9 540.6,214.9 540.7,213.7 540.8,212.2 540.9,212.8 541.1,210.7 541.1,212.1 541.2,212.5 541.3,212.4 541.4,213.2 541.6,214.3 541.7,215.5 541.7,216.4 541.8,216.9 541.9,217.4 542.1,217.5 542.2,217.5 542.2,217.6 542.3,217.7 542.4,218.1 542.6,218.5 542.7,218.5 542.7,218.9 542.8,218.2 542.9,216.7 543.1,214.6 543.2,214.8 543.3,215.3 543.3,214.7 543.4,215.4 543.6,214.0 543.7,213.7 543.8,213.3 543.8,213.4 543.9,214.2 544.1,212.5 544.2,211.4 544.3,211.7 544.3,212.0 544.4,211.3 544.6,208.9 544.7,209.6 544.8,209.7 544.9,208.4 544.9,209.3 545.1,208.2 545.2,208.2 545.3,209.1 545.4,210.5 545.4,211.2 545.7,212.5 545.7,212.7 545.8,213.1 545.9,214.1 545.9,213.7 546.2,213.2 546.2,212.7 546.3,213.1 546.4,212.0 546.5,211.8 546.7,210.1 546.7,209.5 546.8,209.5 546.9,208.9 547.0,209.0 547.2,207.9 547.3,208.4 547.3,208.5 547.4,208.6 547.5,207.6 547.7,205.5 547.8,205.6 547.8,205.2 547.9,205.1 548.0,204.4 548.2,202.0 548.3,200.4 548.3,200.2 548.4,199.4 548.5,199.2 548.7,198.2 548.8,197.6 548.9,197.9 548.9,197.7 549.0,197.8 549.2,198.6 549.3,198.4 549.4,199.2 549.4,199.0 549.5,199.5 549.7,198.3 549.8,197.8 549.9,197.8 549.9,197.8 550.0,196.5 550.2,197.0 550.3,197.1 550.4,196.8 550.5,196.6 550.5,196.1 550.7,197.2 550.8,197.8 550.9,199.1 551.0,199.0 551.0,198.6 551.2,199.2 551.3,200.1 551.4,200.3 551.5,198.8 551.5,196.4 551.8,195.4 551.8,194.4 551.9,193.9 552.0,195.3 552.0,194.3 552.3,192.3 552.3,193.4 552.4,193.1 552.5,192.4 552.6,191.5 552.8,189.7 552.8,189.3 552.9,190.1 553.0,192.1 553.1,191.7 553.3,194.2 553.4,194.5 553.4,195.5 553.5,196.0 553.6,197.3 553.8,200.3 553.9,200.2 553.9,201.4 554.0,202.7 554.1,201.6 554.3,199.7 554.4,198.6 554.4,197.4 554.5,195.1 554.6,194.2 554.8,193.9 554.9,194.4 555.0,195.1 555.0,195.4 555.1,197.6 555.3,199.5 555.4,199.3 555.5,200.1 555.5,201.5 555.6,202.2 555.8,200.0 555.9,200.0 556.0,200.5 556.0,200.9 556.1,200.4 556.3,200.2 556.4,201.0 556.5,201.6 556.6,201.1 556.6,200.9 556.8,200.9 556.9,199.5 557.0,198.3 557.1,199.3 557.1,199.1 557.4,199.5 557.4,199.4 557.5,198.9 557.6,199.0 557.6,198.3 557.9,199.8 557.9,199.2 558.0,198.9 558.1,198.8 558.2,198.3 558.4,195.7 558.4,195.7 558.5,194.5 558.6,193.9 558.7,193.0 558.9,193.1 559.0,193.4 559.0,192.3 559.1,191.5 559.2,192.9 559.4,190.0 559.5,190.2 559.5,190.6 559.6,189.7 559.7,188.4 559.9,188.9 560.0,188.3 560.1,188.4 560.1,188.4 560.2,187.6 560.4,187.4 560.5,185.9 560.6,185.5 560.6,185.3 560.7,184.3 560.9,184.6 561.0,182.9 561.1,181.6 561.1,181.1 561.2,179.8 561.4,180.8 561.5,182.2 561.6,183.2 561.7,184.5 561.7,186.1 561.9,184.6 562.0,185.4 562.1,184.0 562.2,184.2 562.2,183.6 562.5,181.6 562.5,180.3 562.6,179.8 562.7,179.8 562.7,179.9 562.8,179.0 563.0,178.2 563.0,178.0 563.1,178.3 563.2,178.7 563.3,178.4 563.5,175.2 563.5,175.6 563.6,173.6 563.7,173.5 563.8,173.1 564.0,171.0 564.1,172.2 564.1,172.8 564.2,174.4 564.3,176.0 564.5,179.8 564.6,179.0 564.6,177.9 564.7,176.1 564.8,175.4 565.0,168.3 565.1,167.4 565.2,165.8 565.2,164.3 565.3,162.4 565.5,154.0 565.6,156.2 565.7,157.3 565.7,156.7 565.8,157.4 566.0,161.3 566.1,163.0 566.2,163.6 566.2,164.4 566.3,161.6 566.5,156.4 566.6,153.6 566.7,155.2 566.8,156.0 566.8,159.1 567.0,164.4 567.1,166.4 567.2,168.0 567.3,167.1 567.3,165.4 567.6,164.5 567.6,165.9 567.7,166.4 567.8,165.3 567.8,166.4 568.1,163.7 568.1,163.6 568.2,163.1 568.3,161.6 568.4,160.4 568.6,158.2 568.7,156.3 568.7,155.4 568.8,154.9 568.9,155.1 569.1,154.6 569.2,153.0 569.2,152.7 569.3,153.7 569.4,153.5 569.6,154.9 569.7,156.5 569.7,156.4 569.8,156.6 569.9,157.0 570.1,157.1 570.2,157.3 570.3,158.0 570.3,159.8 570.4,160.0 570.6,160.8 570.7,160.2 570.8,158.5 570.8,158.6 570.9,157.7 571.1,155.1 571.2,156.1 571.3,155.3 571.3,154.2 571.4,154.0 571.6,151.8 571.7,153.3 571.8,152.6 571.9,153.2 571.9,153.3 572.1,154.1 572.2,153.6 572.3,153.6 572.4,155.4 572.4,156.7 572.7,159.6 572.7,161.0 572.8,162.4 572.9,161.9 572.9,161.2 573.2,158.4 573.2,157.7 573.3,157.1 573.4,155.7 573.5,155.5 573.7,156.5 573.8,155.5 573.8,155.9 573.9,156.7 574.0,158.4 574.2,158.9 574.3,160.1 574.3,158.7 574.4,156.1 574.5,154.7 574.7,153.2 574.8,151.6 574.8,150.0 574.9,150.0 575.0,150.0 575.2,149.1 575.3,147.8 575.4,145.7 575.4,145.3 575.5,143.6 575.7,142.2 575.8,141.5 575.9,140.4 575.9,139.6 576.0,137.4 576.2,139.3 576.3,137.5 576.4,137.3 576.4,135.7 576.5,135.8 576.7,135.7 576.8,134.4 576.9,133.8 577.0,132.1 577.0,130.3 577.2,130.9 577.3,130.1 577.4,128.9 577.5,128.3 577.5,127.6 577.8,123.0 577.8,120.8 577.9,118.9 578.0,115.7 578.1,114.8 578.3,108.8 578.3,107.5 578.4,104.9 578.5,102.8 578.6,104.0 578.8,101.1 578.9,114.2"/>
<g fill="#000">
<text x="63.26" y="32.40" font-family="'Liberation Sans','Noto Sans CJK SC',sans-serif" font-size="20.05" font-weight="bold" textLength="220.55" lengthAdjust="spacing">年金价将飙升至历史新高</text>
<text x="13.60" y="59.57" font-family="'Liberation Sans','Noto Sans CJK SC',sans-serif" font-size="18.4" stroke="#000" stroke-width="0.1" textLength="88.5" lengthAdjust="spacing">现货价格在</text>
<text x="132.26" y="59.57" font-family="'Liberation Sans','Noto Sans CJK SC',sans-serif" font-size="18.4" stroke="#000" stroke-width="0.1" textLength="123.9" lengthAdjust="spacing">月份突破每盎司</text>
<text x="317.63" y="59.57" font-family="'Liberation Sans','Noto Sans CJK SC',sans-serif" font-size="18.4" stroke="#000" stroke-width="0.1" textLength="123.9" lengthAdjust="spacing">美元后出现回调</text>
<text x="12.66" y="404.98" font-family="'Liberation Sans','Noto Sans CJK SC',sans-serif" font-size="12.48" textLength="96" lengthAdjust="spacing">资料来源：彭博社</text>
<text x="12.66" y="419.08" font-family="'Liberation Sans','Noto Sans CJK SC',sans-serif" font-size="12.48" textLength="48" lengthAdjust="spacing">注：截至</text>
<text x="96.30" y="419.08" font-family="'Liberation Sans','Noto Sans CJK SC',sans-serif" font-size="12.48">年</text>
<text x="128.64" y="419.08" font-family="'Liberation Sans','Noto Sans CJK SC',sans-serif" font-size="12.48">月</text>
<text x="157.80" y="419.08" font-family="'Liberation Sans','Noto Sans CJK SC',sans-serif" font-size="12.48">日</text>
</g>
</svg>
<div class="t tb" style="left:13px;top:15px;font-size:17.8px;line-height:20px;font-weight:bold;transform:matrix(1.2706,0.0005,0,1,0.02,0.40);">2025</div>
<div class="t l" style="left:107px;top:43px;font-size:16.5px;line-height:18px;transform:matrix(1.0820,0.0005,0,1,0.04,0.70);">10</div>
<div class="t l" style="left:262px;top:43px;font-size:16.5px;line-height:18px;transform:matrix(1.1846,0.0005,0,1,0.45,0.70);">4,300</div>
<div class="t" style="left:496px;top:73px;font-size:14px;line-height:16px;transform:matrix(0.9894,0.0005,0,1,0.25,0.00);">$4,500 per troy ounce</div>
<div class="t" style="left:621px;top:328px;font-size:14px;line-height:16px;transform:matrix(1.1954,0.0005,0,1,0.95,0.10);">0</div>
<div class="t" style="left:605px;top:299px;font-size:14px;line-height:16px;transform:matrix(1.0876,0.0005,0,1,0.79,0.72);">500</div>
<div class="t" style="left:596px;top:271px;font-size:14px;line-height:16px;transform:matrix(0.9784,0.0005,0,1,0.86,0.34);">1,000</div>
<div class="t" style="left:597px;top:242px;font-size:14px;line-height:16px;transform:matrix(0.9635,0.0005,0,1,0.37,0.97);">1,500</div>
<div class="t" style="left:594px;top:214px;font-size:14px;line-height:16px;transform:matrix(1.0538,0.0005,0,1,0.26,0.59);">2,000</div>
<div class="t" style="left:595px;top:186px;font-size:14px;line-height:16px;transform:matrix(1.0301,0.0005,0,1,0.07,0.21);">2,500</div>
<div class="t" style="left:594px;top:157px;font-size:14px;line-height:16px;transform:matrix(1.0514,0.0005,0,1,0.34,0.83);">3,000</div>
<div class="t" style="left:595px;top:129px;font-size:14px;line-height:16px;transform:matrix(1.0220,0.0005,0,1,0.36,0.46);">3,500</div>
<div class="t" style="left:594px;top:101px;font-size:14px;line-height:16px;transform:matrix(1.0449,0.0005,0,1,0.56,0.08);">4,000</div>
<div class="t" style="left:35px;top:356px;font-size:14px;line-height:16px;transform:matrix(1.0796,0.0005,0,1,0.44,0.10);">2006</div>
<div class="t" style="left:88px;top:356px;font-size:14px;line-height:16px;transform:matrix(1.0794,0.0005,0,1,0.64,0.10);">2008</div>
<div class="t" style="left:143px;top:356px;font-size:14px;line-height:16px;transform:matrix(0.9668,0.0005,0,1,0.57,0.10);">2010</div>
<div class="t" style="left:196px;top:356px;font-size:14px;line-height:16px;transform:matrix(0.9719,0.0005,0,1,0.77,0.10);">2012</div>
<div class="t" style="left:249px;top:356px;font-size:14px;line-height:16px;transform:matrix(0.9624,0.0005,0,1,0.97,0.10);">2014</div>
<div class="t" style="left:303px;top:356px;font-size:14px;line-height:16px;transform:matrix(0.9690,0.0005,0,1,0.17,0.10);">2016</div>
<div class="t" style="left:356px;top:356px;font-size:14px;line-height:16px;transform:matrix(0.9688,0.0005,0,1,0.37,0.10);">2018</div>
<div class="t" style="left:407px;top:356px;font-size:14px;line-height:16px;transform:matrix(1.0772,0.0005,0,1,0.84,0.10);">2020</div>
<div class="t" style="left:461px;top:356px;font-size:14px;line-height:16px;transform:matrix(1.0829,0.0005,0,1,0.04,0.10);">2022</div>
<div class="t" style="left:514px;top:356px;font-size:14px;line-height:16px;transform:matrix(1.0723,0.0005,0,1,0.25,0.10);">2024</div>
<div class="t h" style="left:11px;top:249px;font-size:14px;line-height:16px;transform:matrix(0.9750,0.0005,0,1,0.63,0.70);">Hits $1,000 as</div>
<div class="t h" style="left:18px;top:263px;font-size:14px;line-height:16px;transform:matrix(0.9806,0.0005,0,1,0.77,0.70);">Bear Stearns</div>
<div class="t h" style="left:41px;top:277px;font-size:14px;line-height:16px;transform:matrix(0.9832,0.0005,0,1,0.52,0.80);">collapses</div>
<div class="t h" style="left:381px;top:171px;font-size:14px;line-height:16px;transform:matrix(0.9130,0.0005,0,1,0.15,0.10);">Covid-19</div>
<div class="t h" style="left:373px;top:185px;font-size:14px;line-height:16px;transform:matrix(0.9725,0.0005,0,1,0.02,0.00);">pandemic</div>
<div class="t h" style="left:351px;top:198px;font-size:14px;line-height:16px;transform:matrix(0.9756,0.0005,0,1,0.02,0.90);">sends gold to</div>
<div class="t h" style="left:387px;top:212px;font-size:14px;line-height:16px;transform:matrix(1.0351,0.0005,0,1,0.94,0.90);">$2,000</div>
<div class="t h" style="left:504px;top:116px;font-size:14px;line-height:16px;transform:matrix(0.9878,0.0005,0,1,0.73,0.30);">US tariff</div>
<div class="t h" style="left:479px;top:130px;font-size:14px;line-height:16px;transform:matrix(0.9825,0.0005,0,1,0.89,0.10);">threats push</div>
<div class="t h" style="left:513px;top:144px;font-size:14px;line-height:16px;transform:matrix(0.9961,0.0005,0,1,0.41,0.00);">gold to</div>
<div class="t h" style="left:510px;top:157px;font-size:14px;line-height:16px;transform:matrix(1.0398,0.0005,0,1,0.74,0.80);">$3,000</div>
<div class="t n" style="left:63px;top:407px;font-size:12px;line-height:14px;transform:matrix(1.0786,0.0005,0,1,0.55,0.90);">2025</div>
<div class="t n" style="left:111px;top:407px;font-size:12px;line-height:14px;transform:matrix(1.0614,0.0005,0,1,0.23,0.90);">10</div>
<div class="t n" style="left:142px;top:407px;font-size:12px;line-height:14px;transform:matrix(1.0404,0.0005,0,1,0.12,0.90);">21</div>
<div class="sr"><h1>2025年金价将飙升至历史新高</h1><p>现货价格在 10 月份突破每盎司 4,300 美元后出现回调</p><p>资料来源：彭博社</p><p>注：截至 2025 年 10 月 21 日</p></div>
</body></html>
